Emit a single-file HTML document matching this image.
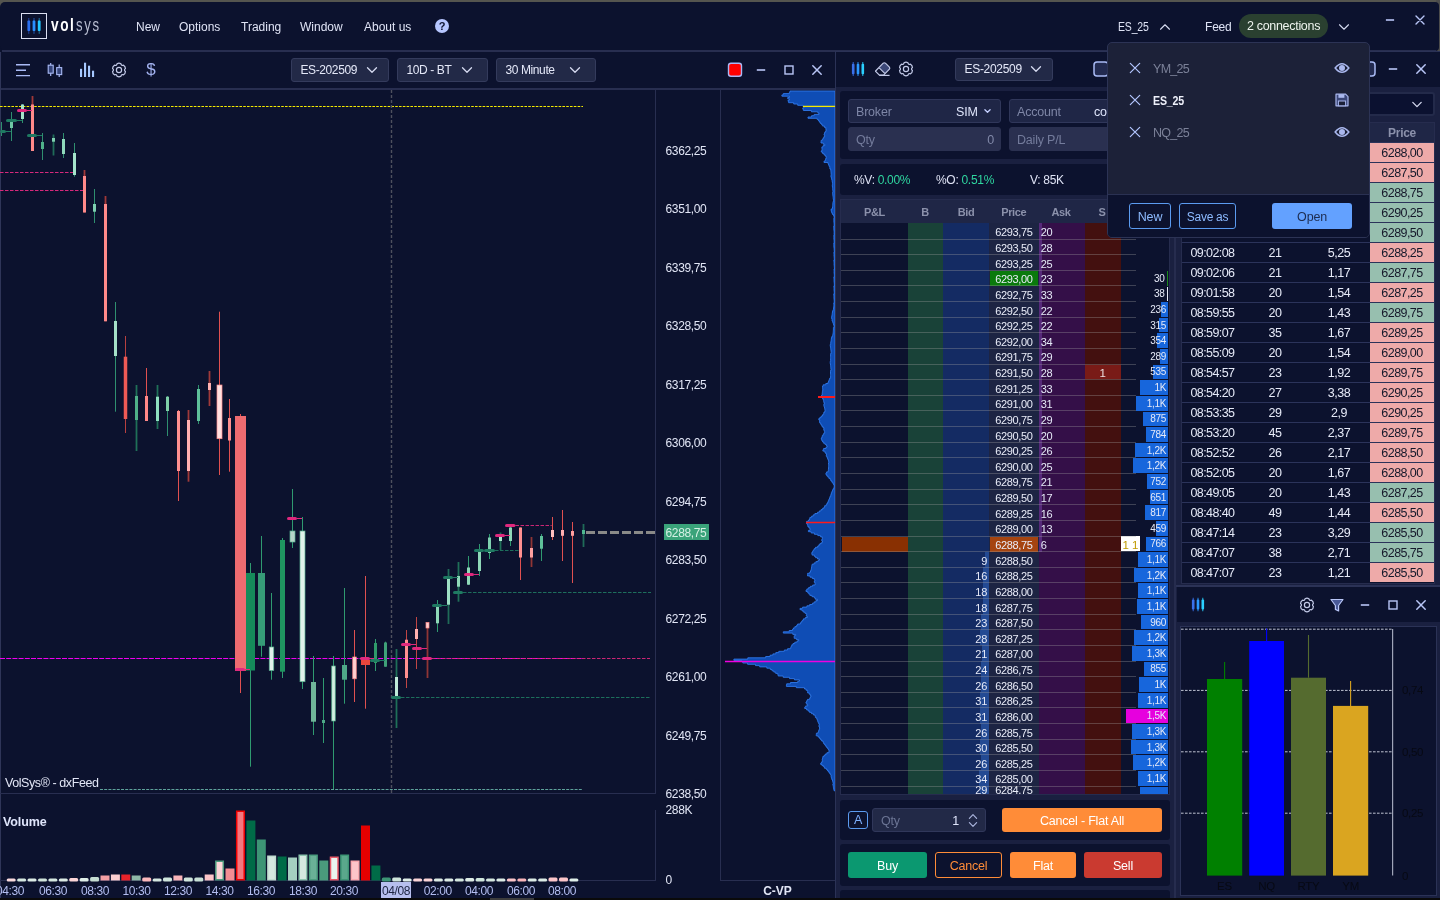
<!DOCTYPE html><html><head><meta charset="utf-8"><title>volsys</title><style>
*{box-sizing:border-box;margin:0;padding:0}
html,body{width:1440px;height:900px;overflow:hidden;background:#0c122e}
body{font-family:"Liberation Sans",sans-serif;font-size:12px;color:#dfe3f5;position:relative;letter-spacing:-0.2px}
.a{position:absolute}
.t{position:absolute;white-space:nowrap;line-height:16px;height:16px}
.c{text-align:center}
.r{text-align:right}
.b{font-weight:bold}
svg{position:absolute;left:0;top:0;overflow:visible}
.dd{position:absolute;background:#222947;border:1px solid #343b5c;border-radius:3px}
.blk{position:absolute;background:#0c122e;border-radius:3px}
.fld{position:absolute;background:#1f2646;border:1px solid #30375a;border-radius:3px}
.btn{position:absolute;border-radius:3px;text-align:center;color:#fff;font-size:12.5px;padding-top:1px}
</style></head><body>
<div class="a" style="left:0;top:0;width:1440px;height:8px;background:#55554f"></div>
<div class="a" style="left:1436px;top:0;width:4px;height:52px;background:#4c4c4c"></div>
<div class="a" style="left:0;top:1.5px;width:1438.6px;height:49.5px;background:#0c122e;border-radius:5px 4px 4px 5px"></div>
<div class="a" style="left:2px;top:50px;width:1434px;height:2px;background:#282e50"></div>
<div class="a" style="left:21px;top:12.8px;width:26.2px;height:26.2px;border:1.8px solid #dcdff2"></div>
<svg width="1440" height="60"><g><line x1="28.8" y1="18" x2="28.8" y2="33.8" stroke="#2348b0" stroke-width="0.9"/><rect x="27.4" y="20.6" width="2.8" height="10.5" rx="0.8" fill="#2a6ff0"/><line x1="34" y1="18" x2="34" y2="33.8" stroke="#2360c0" stroke-width="0.9"/><rect x="32.6" y="20.6" width="2.8" height="10.5" rx="0.8" fill="#2a90ff"/><line x1="39.2" y1="18" x2="39.2" y2="33.8" stroke="#2080b0" stroke-width="0.9"/><rect x="37.8" y="20.6" width="2.8" height="10.5" rx="0.8" fill="#22c8ff"/></g><circle cx="442" cy="26" r="7" fill="#b6c6ff"/><path d="M1160.5,29.25 L1165,24.75 L1169.5,29.25" fill="none" stroke="#d5daf0" stroke-width="1.1" stroke-linecap="round" stroke-linejoin="round"/><path d="M1339.5,24.75 L1344,29.25 L1348.5,24.75" fill="none" stroke="#d5daf0" stroke-width="1.1" stroke-linecap="round" stroke-linejoin="round"/><path d="M1385.9,20 L1394.1,20" stroke="#b9c6f7" stroke-width="1.6" fill="none"/><path d="M1416.0,16.0 L1424.0,24.0 M1424.0,16.0 L1416.0,24.0" stroke="#b9c6f7" stroke-width="1.4" stroke-linecap="round" fill="none"/></svg>
<div class="t" style="left:51px;top:12px;height:26px;line-height:26px;font-size:17.5px;color:#fff;font-weight:bold;transform:scaleX(0.78);transform-origin:0 0;letter-spacing:2px">vol</div>
<div class="t" style="left:76.3px;top:12px;height:26px;line-height:26px;font-size:17.5px;color:#b9bed2;letter-spacing:2.3px;transform:scaleX(0.75);transform-origin:0 0">sys</div>
<div class="t c b" style="left:435px;top:18px;width:14px;color:#0c122e;font-size:11px;">?</div>
<div class="t " style="left:136px;top:19px;font-size:12px;letter-spacing:0">New</div>
<div class="t " style="left:179px;top:19px;font-size:12px;letter-spacing:0">Options</div>
<div class="t " style="left:241px;top:19px;font-size:12px;letter-spacing:0">Trading</div>
<div class="t " style="left:300px;top:19px;font-size:12px;letter-spacing:0">Window</div>
<div class="t " style="left:364px;top:19px;font-size:12px;letter-spacing:0">About us</div>
<div class="t " style="left:1118px;top:19px;font-size:12.5px;transform:scaleX(0.84);transform-origin:0 50%">ES_25</div>
<div class="t " style="left:1205px;top:19px;font-size:12px">Feed</div>
<div class="a" style="left:1239px;top:14px;width:89px;height:24px;border-radius:12px;background:#2a4030"></div>
<div class="t c" style="left:1239px;top:18px;width:89px;font-size:12.5px;color:#eef3ee;letter-spacing:-0.3px">2 connections</div>
<div class="a" style="left:0;top:88px;width:835px;height:2px;background:#282e50"></div>
<div class="a" style="left:0;top:52px;width:1px;height:848px;background:#2f3558"></div>
<div class="a" style="left:655px;top:90px;width:1px;height:704px;background:#282e50"></div>
<div class="a" style="left:0;top:792.7px;width:656px;height:1.6px;background:#282e50"></div>
<div class="a" style="left:655px;top:810px;width:1px;height:70px;background:#282e50"></div>
<div class="a" style="left:0;top:879.5px;width:656px;height:1px;background:#282e50"></div>
<div class="a" style="left:720px;top:90px;width:1px;height:790px;background:#282e50"></div>
<div class="a" style="left:720px;top:880px;width:115px;height:1px;background:#282e50"></div>
<div class="dd" style="left:291px;top:58px;width:98px;height:24px"></div>
<div class="t " style="left:300.5px;top:62px;font-size:12px;color:#e4e8f8;letter-spacing:-0.4px">ES-202509</div>
<div class="dd" style="left:397px;top:58px;width:91px;height:24px"></div>
<div class="t " style="left:406.5px;top:62px;font-size:12px;color:#e4e8f8;letter-spacing:-0.4px">10D - BT</div>
<div class="dd" style="left:496px;top:58px;width:100px;height:24px"></div>
<div class="t " style="left:505.5px;top:62px;font-size:12px;color:#e4e8f8;letter-spacing:-0.4px">30 Minute</div>
<svg width="1440" height="100"><path d="M16,64.8 H30 M16,70.2 H26 M16,75.6 H30" stroke="#a9baf5" stroke-width="1.4" fill="none"/><path d="M50.7,63 V65 M50.7,73 V76 M59.2,64.5 V67.5 M59.2,74.5 V77" stroke="#a9baf5" stroke-width="1.2"/><rect x="48.2" y="65.2" width="5" height="8" fill="#35447a" stroke="#a9baf5" stroke-width="1.1"/><rect x="56.7" y="67.6" width="5" height="7" fill="#35447a" stroke="#a9baf5" stroke-width="1.1"/><rect x="80" y="68.8" width="2.1" height="8.200000000000003" fill="#a6c8ff"/><rect x="84" y="62.7" width="2.1" height="14.299999999999997" fill="#a6c8ff"/><rect x="88" y="65.7" width="2.1" height="11.299999999999997" fill="#a6c8ff"/><rect x="92" y="70.7" width="2.1" height="6.299999999999997" fill="#a6c8ff"/><path d="M117.07,63.69 A4.09,4.09 0 0 1 120.93,63.69 Q121.30,66.02 123.50,65.17 A4.09,4.09 0 0 1 125.43,68.52 Q123.60,70.00 125.43,71.48 A4.09,4.09 0 0 1 123.50,74.83 Q121.30,73.98 120.93,76.31 A4.09,4.09 0 0 1 117.07,76.31 Q116.70,73.98 114.50,74.83 A4.09,4.09 0 0 1 112.57,71.48 Q114.40,70.00 112.57,68.52 A4.09,4.09 0 0 1 114.50,65.17 Q116.70,66.02 117.07,63.69 Z" fill="none" stroke="#c3cae8" stroke-width="1.2" stroke-linejoin="round"/><circle cx="119" cy="70" r="2.6" fill="none" stroke="#c3cae8" stroke-width="1.2"/><path d="M367.5,67.75 L372,72.25 L376.5,67.75" fill="none" stroke="#d5daf0" stroke-width="1.3" stroke-linecap="round" stroke-linejoin="round"/><path d="M462.5,67.75 L467,72.25 L471.5,67.75" fill="none" stroke="#d5daf0" stroke-width="1.3" stroke-linecap="round" stroke-linejoin="round"/><path d="M570.5,67.75 L575,72.25 L579.5,67.75" fill="none" stroke="#d5daf0" stroke-width="1.3" stroke-linecap="round" stroke-linejoin="round"/><rect x="728.5" y="63.3" width="13" height="13" rx="2.5" fill="#ff0000" stroke="#aab8f5" stroke-width="1.4"/><path d="M756.8,70 L765.2,70" stroke="#b9c6f7" stroke-width="1.6" fill="none"/><rect x="785" y="66" width="8" height="8" fill="none" stroke="#b9c6f7" stroke-width="1.4"/><path d="M812.8,65.8 L821.2,74.2 M821.2,65.8 L812.8,74.2" stroke="#b9c6f7" stroke-width="1.5" stroke-linecap="round" fill="none"/></svg>
<div class="t c" style="left:144px;top:62px;width:14px;font-size:17px;color:#a3b2f0;">$</div>
<div class="t " style="left:665.5px;top:142.8px;letter-spacing:-0.35px;color:#e2e6f6">6362,25</div>
<div class="t " style="left:665.5px;top:201.3px;letter-spacing:-0.35px;color:#e2e6f6">6351,00</div>
<div class="t " style="left:665.5px;top:259.8px;letter-spacing:-0.35px;color:#e2e6f6">6339,75</div>
<div class="t " style="left:665.5px;top:318.3px;letter-spacing:-0.35px;color:#e2e6f6">6328,50</div>
<div class="t " style="left:665.5px;top:376.8px;letter-spacing:-0.35px;color:#e2e6f6">6317,25</div>
<div class="t " style="left:665.5px;top:435.3px;letter-spacing:-0.35px;color:#e2e6f6">6306,00</div>
<div class="t " style="left:665.5px;top:493.8px;letter-spacing:-0.35px;color:#e2e6f6">6294,75</div>
<div class="t " style="left:665.5px;top:552.3px;letter-spacing:-0.35px;color:#e2e6f6">6283,50</div>
<div class="t " style="left:665.5px;top:610.8px;letter-spacing:-0.35px;color:#e2e6f6">6272,25</div>
<div class="t " style="left:665.5px;top:669.3px;letter-spacing:-0.35px;color:#e2e6f6">6261,00</div>
<div class="t " style="left:665.5px;top:727.8px;letter-spacing:-0.35px;color:#e2e6f6">6249,75</div>
<div class="t " style="left:665.5px;top:786.3px;letter-spacing:-0.35px;color:#e2e6f6">6238,50</div>
<div class="a" style="left:664px;top:524px;width:45px;height:16px;background:#3aa37a"></div>
<div class="t " style="left:665.5px;top:524.6px;letter-spacing:-0.35px;color:#d5f0e4">6288,75</div>
<div class="t " style="left:665.5px;top:802px;letter-spacing:-0.35px;color:#e2e6f6">288K</div>
<div class="t " style="left:665.5px;top:872px;color:#e2e6f6">0</div>
<div class="t c b" style="left:720px;top:882.5px;width:115px;font-size:12px;color:#e2e6f6;letter-spacing:0">C-VP</div>
<div class="t " style="left:5px;top:775px;font-size:12.5px;color:#e2e6f6;letter-spacing:-0.42px">VolSys® - dxFeed</div>
<div class="t b" style="left:3px;top:814px;font-size:12.5px;color:#dfe5fb;letter-spacing:-0.1px">Volume</div>
<div class="a" style="left:381px;top:882px;width:30px;height:15.5px;background:#b7bfee"></div>
<div class="t c" style="left:-10px;top:883px;width:40px;letter-spacing:-0.4px;color:#b3bdf0">04:30</div>
<div class="t c" style="left:33px;top:883px;width:40px;letter-spacing:-0.4px;color:#b3bdf0">06:30</div>
<div class="t c" style="left:75px;top:883px;width:40px;letter-spacing:-0.4px;color:#b3bdf0">08:30</div>
<div class="t c" style="left:116.5px;top:883px;width:40px;letter-spacing:-0.4px;color:#b3bdf0">10:30</div>
<div class="t c" style="left:158px;top:883px;width:40px;letter-spacing:-0.4px;color:#b3bdf0">12:30</div>
<div class="t c" style="left:199.5px;top:883px;width:40px;letter-spacing:-0.4px;color:#b3bdf0">14:30</div>
<div class="t c" style="left:241px;top:883px;width:40px;letter-spacing:-0.4px;color:#b3bdf0">16:30</div>
<div class="t c" style="left:283px;top:883px;width:40px;letter-spacing:-0.4px;color:#b3bdf0">18:30</div>
<div class="t c" style="left:324px;top:883px;width:40px;letter-spacing:-0.4px;color:#b3bdf0">20:30</div>
<div class="t c" style="left:376px;top:883px;width:40px;letter-spacing:-0.4px;color:#1c2340">04/08</div>
<div class="t c" style="left:417.7px;top:883px;width:40px;letter-spacing:-0.4px;color:#b3bdf0">02:00</div>
<div class="t c" style="left:459px;top:883px;width:40px;letter-spacing:-0.4px;color:#b3bdf0">04:00</div>
<div class="t c" style="left:501px;top:883px;width:40px;letter-spacing:-0.4px;color:#b3bdf0">06:00</div>
<div class="t c" style="left:542px;top:883px;width:40px;letter-spacing:-0.4px;color:#b3bdf0">08:00</div>
<svg width="1440" height="900" viewBox="0 0 1440 900">
<line x1="0" y1="106.5" x2="583" y2="106.5" stroke="#f5ea00" stroke-width="1.2" stroke-dasharray="2.6 1.2"/>
<line x1="0" y1="172.5" x2="74" y2="172.5" stroke="#d8287c" stroke-width="1" stroke-dasharray="3.5 1.5"/>
<line x1="0" y1="190.5" x2="83" y2="190.5" stroke="#d8287c" stroke-width="1" stroke-dasharray="3.5 1.5"/>
<line x1="0" y1="658.5" x2="583" y2="658.5" stroke="#f000f0" stroke-width="1" stroke-dasharray="5 1.2"/>
<line x1="100" y1="789.5" x2="583" y2="789.5" stroke="#74c8b8" stroke-width="0.8" stroke-dasharray="3 1.2"/>
<line x1="391.5" y1="90" x2="391.5" y2="793" stroke="#4e505e" stroke-width="1.4" stroke-dasharray="3 2"/>
<line x1="586" y1="532.5" x2="655" y2="532.5" stroke="#8a8a88" stroke-width="3" stroke-dasharray="9 3"/>
<line x1="1.5" y1="122" x2="1.5" y2="136" stroke="#2f8f6f" stroke-width="1"/>
<rect x="1.50" y="129" width="0" height="0.00" fill="#4fb08a"/>
<line x1="11.5" y1="112" x2="11.5" y2="141" stroke="#2f8f6f" stroke-width="1"/>
<rect x="10.00" y="119.5" width="3" height="8.50" fill="#6fc8a6"/>
<line x1="22.5" y1="104" x2="22.5" y2="123" stroke="#2f8f6f" stroke-width="1"/>
<rect x="21.00" y="104.5" width="3" height="14.50" fill="#a5e4cb"/>
<line x1="32.5" y1="96" x2="32.5" y2="151" stroke="#a03838" stroke-width="1.8"/>
<rect x="31.00" y="104.5" width="3" height="46.50" fill="#ff8a8a"/>
<line x1="42.5" y1="133" x2="42.5" y2="160" stroke="#2f8f6f" stroke-width="1"/>
<rect x="41.00" y="142" width="3" height="7.00" fill="#4fb08a"/>
<line x1="53.5" y1="134.5" x2="53.5" y2="155.5" stroke="#1f6b58" stroke-width="1.8"/>
<rect x="52.00" y="138" width="3" height="3.70" fill="#7fd0b0"/>
<line x1="63.5" y1="133" x2="63.5" y2="158" stroke="#2f8f6f" stroke-width="1"/>
<rect x="62.00" y="139" width="3" height="15.00" fill="#8fd8bb"/>
<line x1="74.5" y1="143" x2="74.5" y2="176.7" stroke="#2f8f6f" stroke-width="1"/>
<rect x="73.00" y="153" width="3" height="22.00" fill="#a5e4cb"/>
<line x1="84.5" y1="170" x2="84.5" y2="212.5" stroke="#a03838" stroke-width="1.8"/>
<rect x="83.00" y="176" width="3" height="36.50" fill="#ff8a8a"/>
<line x1="94.5" y1="189" x2="94.5" y2="223" stroke="#2f8f6f" stroke-width="1"/>
<rect x="93.00" y="204" width="3" height="7.70" fill="#7fcfb0"/>
<line x1="105.5" y1="196" x2="105.5" y2="321.3" stroke="#a03838" stroke-width="1.8"/>
<rect x="104.00" y="204" width="3" height="117.30" fill="#ff8a8a"/>
<line x1="115.5" y1="302" x2="115.5" y2="411.7" stroke="#2f8f6f" stroke-width="1"/>
<rect x="114.00" y="321" width="3" height="35.00" fill="#a5e0c8"/>
<line x1="125.5" y1="336" x2="125.5" y2="433" stroke="#b84040" stroke-width="1"/>
<rect x="123.75" y="356.7" width="3.5" height="62.30" fill="#ee5a55"/>
<line x1="136.5" y1="385" x2="136.5" y2="451" stroke="#1f7058" stroke-width="1.8"/>
<rect x="135.00" y="396" width="3" height="24.00" fill="#4fb088"/>
<line x1="146.5" y1="368" x2="146.5" y2="421" stroke="#e05050" stroke-width="1"/>
<rect x="145.00" y="396" width="3" height="25.00" fill="#ff8888"/>
<line x1="157.5" y1="385" x2="157.5" y2="429" stroke="#1f7058" stroke-width="1.8"/>
<rect x="156.00" y="396.7" width="3" height="24.30" fill="#8fe0c0"/>
<line x1="167.5" y1="396" x2="167.5" y2="436" stroke="#2f8f6f" stroke-width="1"/>
<rect x="166.00" y="396.7" width="3" height="14.30" fill="#7fcfa8"/>
<line x1="178.5" y1="410" x2="178.5" y2="501" stroke="#e05050" stroke-width="1"/>
<rect x="177.00" y="411" width="3" height="60.00" fill="#ff9090"/>
<line x1="188.5" y1="410" x2="188.5" y2="481.7" stroke="#a03a3a" stroke-width="1.8"/>
<rect x="187.00" y="420" width="3" height="51.00" fill="#ffb0b0"/>
<line x1="198.5" y1="385" x2="198.5" y2="424" stroke="#2f8f6f" stroke-width="1"/>
<rect x="197.00" y="389" width="3" height="32.00" fill="#5fc09a"/>
<line x1="209.5" y1="371" x2="209.5" y2="406" stroke="#a03a3a" stroke-width="1.8"/>
<rect x="208.00" y="383" width="3" height="7.00" fill="#ffb0b0"/>
<line x1="219.5" y1="311.7" x2="219.5" y2="475" stroke="#e05050" stroke-width="1"/>
<rect x="217.00" y="385" width="5" height="53.70" fill="#ffe0e0" stroke="#ff8a8a" stroke-width="0.7"/>
<line x1="229.5" y1="399" x2="229.5" y2="471.7" stroke="#e05050" stroke-width="1"/>
<rect x="228.00" y="418" width="3" height="22.50" fill="#ff9090"/>
<line x1="240.5" y1="414" x2="240.5" y2="693" stroke="#e05050" stroke-width="1"/>
<rect x="235.00" y="416" width="11" height="254.80" fill="#ee6b70"/>
<line x1="250.5" y1="563" x2="250.5" y2="766.7" stroke="#2f9a70" stroke-width="1"/>
<rect x="246.00" y="573" width="9" height="97.50" fill="#158a5a"/>
<line x1="261.5" y1="536" x2="261.5" y2="656.7" stroke="#2f9a70" stroke-width="1"/>
<rect x="258.00" y="573" width="7" height="72.80" fill="#369b77"/>
<line x1="271.5" y1="593" x2="271.5" y2="679.7" stroke="#2f9a70" stroke-width="1"/>
<rect x="269.25" y="647" width="4.5" height="23.50" fill="#e0f0ea" stroke="#58b090" stroke-width="0.7"/>
<line x1="282.5" y1="538" x2="282.5" y2="678" stroke="#2f9a70" stroke-width="1"/>
<rect x="280.00" y="540" width="5" height="131.70" fill="#1f9560"/>
<line x1="292.5" y1="489" x2="292.5" y2="548" stroke="#2f9a70" stroke-width="1"/>
<rect x="290.00" y="531" width="5" height="11.00" fill="#b5d5c8" stroke="#58b090" stroke-width="0.7"/>
<line x1="302.5" y1="517" x2="302.5" y2="689" stroke="#2f9a70" stroke-width="1"/>
<rect x="300.00" y="531" width="5" height="150.70" fill="#e0f2ea" stroke="#58b090" stroke-width="0.7"/>
<line x1="313.5" y1="656" x2="313.5" y2="735" stroke="#2f9a70" stroke-width="1"/>
<rect x="311.00" y="682" width="5" height="39.70" fill="#70b59a"/>
<line x1="323.5" y1="678" x2="323.5" y2="743" stroke="#2f9a70" stroke-width="1"/>
<rect x="322.00" y="720" width="3" height="3.00" fill="#4fa888"/>
<line x1="333.5" y1="656" x2="333.5" y2="789" stroke="#2f9a70" stroke-width="1"/>
<rect x="331.75" y="666" width="3.5" height="55.00" fill="#d0f0e0" stroke="#58b090" stroke-width="0.7"/>
<line x1="344.5" y1="588" x2="344.5" y2="703.7" stroke="#2f9a70" stroke-width="1"/>
<rect x="342.00" y="665" width="5" height="14.70" fill="#4fa888"/>
<line x1="354.5" y1="630" x2="354.5" y2="702" stroke="#e05050" stroke-width="1"/>
<rect x="352.75" y="657" width="3.5" height="21.80" fill="#ffd0d0" stroke="#ff8a8a" stroke-width="0.7"/>
<line x1="365.5" y1="576" x2="365.5" y2="708.7" stroke="#e05050" stroke-width="1"/>
<rect x="361.00" y="659.7" width="9" height="5.30" fill="#e8463c"/>
<line x1="375.5" y1="639" x2="375.5" y2="671" stroke="#2f9a70" stroke-width="1"/>
<rect x="374.00" y="643" width="3" height="20.00" fill="#2f9a6a"/>
<line x1="385.5" y1="641.7" x2="385.5" y2="666.7" stroke="#2f9a70" stroke-width="1"/>
<rect x="384.00" y="642.5" width="3" height="24.20" fill="#3fa078"/>
<line x1="396.5" y1="649" x2="396.5" y2="728" stroke="#1f7058" stroke-width="1.8"/>
<rect x="395.00" y="677" width="3" height="19.00" fill="#c0ead8"/>
<line x1="406.5" y1="630" x2="406.5" y2="688" stroke="#c04545" stroke-width="1"/>
<rect x="405.00" y="639.7" width="3" height="38.30" fill="#ff9090"/>
<line x1="416.5" y1="617" x2="416.5" y2="669" stroke="#c04545" stroke-width="1"/>
<rect x="415.00" y="629" width="3" height="10.00" fill="#ffb0b0"/>
<line x1="427.5" y1="622.5" x2="427.5" y2="678" stroke="#903535" stroke-width="1.8"/>
<rect x="426.00" y="622.5" width="3" height="5.50" fill="#ffd0d0" stroke="#ff8a8a" stroke-width="0.7"/>
<line x1="437.5" y1="600" x2="437.5" y2="632" stroke="#2f9a70" stroke-width="1"/>
<rect x="436.00" y="605" width="3" height="18.30" fill="#8fd8b8"/>
<line x1="448.5" y1="569" x2="448.5" y2="624" stroke="#1f6b58" stroke-width="1.8"/>
<rect x="447.00" y="577.5" width="3" height="27.20" fill="#9fe0c5"/>
<line x1="458.5" y1="562" x2="458.5" y2="601.7" stroke="#1f7058" stroke-width="1.8"/>
<rect x="457.00" y="576" width="3" height="10.70" fill="#8fd8b8"/>
<line x1="468.5" y1="556" x2="468.5" y2="585" stroke="#2f9a70" stroke-width="1"/>
<rect x="467.00" y="567.5" width="3" height="17.20" fill="#8fd8b8"/>
<line x1="479.5" y1="544" x2="479.5" y2="576" stroke="#2f9a70" stroke-width="1"/>
<rect x="478.00" y="550" width="3" height="21.00" fill="#8fd8b8"/>
<line x1="489.5" y1="534" x2="489.5" y2="559" stroke="#2f9a70" stroke-width="1"/>
<rect x="488.00" y="537.5" width="3" height="15.50" fill="#7fd0b0"/>
<line x1="500.5" y1="532.5" x2="500.5" y2="550" stroke="#1f7058" stroke-width="1.8"/>
<rect x="499.00" y="536.7" width="3" height="4.30" fill="#b0ecd0"/>
<line x1="510.5" y1="526" x2="510.5" y2="546" stroke="#2f9a70" stroke-width="1"/>
<rect x="509.00" y="527.5" width="3" height="13.50" fill="#8fd8b8"/>
<line x1="520.5" y1="527.5" x2="520.5" y2="580" stroke="#e05050" stroke-width="1"/>
<rect x="519.00" y="527.5" width="3" height="30.00" fill="#ff9090"/>
<line x1="531.5" y1="537" x2="531.5" y2="567" stroke="#903535" stroke-width="1.8"/>
<rect x="530.00" y="548" width="3" height="9.50" fill="#ffa0a0"/>
<line x1="541.5" y1="534" x2="541.5" y2="561" stroke="#2f9a70" stroke-width="1"/>
<rect x="540.00" y="536" width="3" height="12.70" fill="#5fc09a"/>
<line x1="552.5" y1="517" x2="552.5" y2="540" stroke="#e05050" stroke-width="1"/>
<rect x="551.00" y="530" width="3" height="7.00" fill="#ffc0c0"/>
<line x1="562.5" y1="510" x2="562.5" y2="561" stroke="#e05050" stroke-width="1"/>
<rect x="561.00" y="530" width="3" height="5.80" fill="#ffb0b0"/>
<line x1="572.5" y1="522" x2="572.5" y2="583" stroke="#e05050" stroke-width="1"/>
<rect x="571.00" y="531" width="3" height="4.80" fill="#ffa0a0"/>
<line x1="583.5" y1="524" x2="583.5" y2="547" stroke="#1f6b58" stroke-width="1.8"/>
<rect x="582.00" y="530" width="3" height="4.00" fill="#4fb890"/>
<rect x="0" y="129.9" width="6" height="3.2" rx="1.6" fill="#1f7a62"/>
<line x1="6" y1="131.5" x2="11" y2="131.5" stroke="#1f7a62" stroke-width="1"/>
<rect x="6" y="118.9" width="11" height="3.2" rx="1.6" fill="#1f7a62"/>
<line x1="17" y1="120.5" x2="22" y2="120.5" stroke="#1f7a62" stroke-width="1"/>
<rect x="17" y="108.9" width="10" height="3.2" rx="1.6" fill="#e0287e"/>
<line x1="27" y1="110.5" x2="32" y2="110.5" stroke="#e0287e" stroke-width="1"/>
<rect x="27" y="133.9" width="10" height="3.2" rx="1.6" fill="#1f7a62"/>
<line x1="37" y1="135.5" x2="42" y2="135.5" stroke="#1f7a62" stroke-width="1"/>
<rect x="235" y="667.9" width="10" height="3.2" rx="1.6" fill="#e0287e"/>
<line x1="245" y1="669.5" x2="250" y2="669.5" stroke="#e0287e" stroke-width="1"/>
<rect x="287" y="516.9" width="10" height="3.2" rx="1.6" fill="#e0287e"/>
<line x1="297" y1="518.5" x2="302" y2="518.5" stroke="#e0287e" stroke-width="1"/>
<rect x="360" y="656.9" width="10" height="3.2" rx="1.6" fill="#e0287e"/>
<line x1="370" y1="658.5" x2="374" y2="658.5" stroke="#e0287e" stroke-width="1"/>
<rect x="370" y="658.9" width="10" height="3.2" rx="1.6" fill="#1f7a62"/>
<line x1="380" y1="660.5" x2="385" y2="660.5" stroke="#1f7a62" stroke-width="1"/>
<rect x="391" y="695.9" width="10" height="3.2" rx="1.6" fill="#1f7a62"/>
<line x1="401" y1="697.5" x2="650" y2="697.5" stroke="#1f7a62" stroke-width="0.9" stroke-dasharray="3.5 1.5"/>
<rect x="401" y="642.9" width="10" height="3.2" rx="1.6" fill="#e0287e"/>
<line x1="411" y1="644.5" x2="416" y2="644.5" stroke="#e0287e" stroke-width="1"/>
<rect x="412" y="646.9" width="10" height="3.2" rx="1.6" fill="#e0287e"/>
<line x1="422" y1="648.5" x2="427" y2="648.5" stroke="#e0287e" stroke-width="1"/>
<rect x="422" y="656.9" width="10" height="3.2" rx="1.6" fill="#e0287e"/>
<line x1="432" y1="658.5" x2="650" y2="658.5" stroke="#e0287e" stroke-width="0.9" stroke-dasharray="3.5 1.5"/>
<rect x="432" y="603.9" width="10" height="3.2" rx="1.6" fill="#1f7a62"/>
<line x1="442" y1="605.5" x2="447" y2="605.5" stroke="#1f7a62" stroke-width="1"/>
<rect x="443" y="575.9" width="10" height="3.2" rx="1.6" fill="#1f7a62"/>
<line x1="453" y1="577.5" x2="458" y2="577.5" stroke="#1f7a62" stroke-width="1"/>
<rect x="453" y="590.9" width="10" height="3.2" rx="1.6" fill="#1f7a62"/>
<line x1="463" y1="592.5" x2="651" y2="592.5" stroke="#1f7a62" stroke-width="0.9" stroke-dasharray="3.5 1.5"/>
<rect x="464" y="572.9" width="10" height="3.2" rx="1.6" fill="#e0287e"/>
<line x1="474" y1="574.5" x2="479" y2="574.5" stroke="#e0287e" stroke-width="1"/>
<rect x="474" y="548.9" width="10" height="3.2" rx="1.6" fill="#1f7a62"/>
<rect x="484" y="548.9" width="11" height="3.2" rx="1.6" fill="#1f7a62"/>
<line x1="495" y1="550.5" x2="520" y2="550.5" stroke="#1f7a62" stroke-width="0.9" stroke-dasharray="3.5 1.5"/>
<rect x="495" y="533.9" width="10" height="3.2" rx="1.6" fill="#e0287e"/>
<line x1="505" y1="535.5" x2="510" y2="535.5" stroke="#e0287e" stroke-width="1"/>
<rect x="505" y="523.9" width="10.5" height="3.2" rx="1.6" fill="#e0287e"/>
<line x1="515.5" y1="525.5" x2="551.7" y2="525.5" stroke="#e0287e" stroke-width="0.9" stroke-dasharray="3.5 1.5"/>
<rect x="6.7" y="878.6" width="9" height="3" rx="1.5" fill="#fadadd"/>
<rect x="17.1" y="878.6" width="9" height="3" rx="1.5" fill="#d5e8e0"/>
<rect x="27.5" y="878.6" width="9" height="3" rx="1.5" fill="#dcebe5"/>
<rect x="38.0" y="878.6" width="9" height="3" rx="1.5" fill="#cfe3da"/>
<rect x="48.4" y="878.6" width="9" height="3" rx="1.5" fill="#d5e8e0"/>
<rect x="58.8" y="878.6" width="9" height="3" rx="1.5" fill="#dcebe5"/>
<rect x="69.2" y="878.1" width="9" height="3.5" rx="1.5" fill="#fcd5d8"/>
<rect x="79.6" y="878.1" width="9" height="3.5" rx="1.5" fill="#e0efe9"/>
<rect x="90.1" y="877.1" width="9" height="4.5" rx="1.5" fill="#c5ddd2"/>
<rect x="100.5" y="875.5" width="9" height="5" fill="#f4a0a5"/>
<rect x="110.9" y="874.5" width="9" height="6" fill="#fccfd1"/>
<rect x="121.3" y="874.5" width="9" height="6" fill="#e8232a"/>
<rect x="131.7" y="875.5" width="9" height="5" fill="#8fb8a8"/>
<rect x="142.2" y="877.6" width="9" height="4" rx="1.5" fill="#fbb8bc"/>
<rect x="152.6" y="878.6" width="9" height="3" rx="1.5" fill="#d5e8e0"/>
<rect x="163.0" y="877.6" width="9" height="4" rx="1.5" fill="#cfe6dc"/>
<rect x="173.4" y="875.5" width="9" height="5" fill="#f9b5ba"/>
<rect x="183.8" y="877.6" width="9" height="4" rx="1.5" fill="#cfe6dc"/>
<rect x="194.3" y="877.6" width="9" height="4" rx="1.5" fill="#c8e0d6"/>
<rect x="204.7" y="874.5" width="9" height="6" fill="#fcc5c9"/>
<rect x="215.8" y="861.25" width="7.5" height="18.5" fill="#fcd5d8" stroke="#4c9a7d" stroke-width="1.5"/>
<rect x="225.5" y="868.5" width="9" height="12" fill="#f58d93"/>
<rect x="236.7" y="811.25" width="7.5" height="68.5" fill="#f4777f" stroke="#f00000" stroke-width="1.5"/>
<rect x="246.4" y="820.5" width="9" height="60" fill="#006b47"/>
<rect x="256.8" y="839.5" width="9" height="41" fill="#3d9575"/>
<rect x="267.9" y="856.25" width="7.5" height="23.5" fill="#d5e8e0" stroke="#c0dcd0" stroke-width="1.5"/>
<rect x="277.6" y="856.5" width="9" height="24" fill="#006b47"/>
<rect x="288.0" y="857.5" width="9" height="23" fill="#a5cfc0"/>
<rect x="299.2" y="855.25" width="7.5" height="24.5" fill="#d5e8e0" stroke="#8cc4ae" stroke-width="1.5"/>
<rect x="309.6" y="855.25" width="7.5" height="24.5" fill="#6ab097" stroke="#4a9c7e" stroke-width="1.5"/>
<rect x="319.3" y="860.5" width="9" height="20" fill="#4a9a7c"/>
<rect x="330.5" y="857.25" width="7.5" height="22.5" fill="#e8f4ef" stroke="#e85a6a" stroke-width="1.5"/>
<rect x="340.9" y="855.25" width="7.5" height="24.5" fill="#5aa88c" stroke="#3d9575" stroke-width="1.5"/>
<rect x="351.3" y="861.25" width="7.5" height="18.5" fill="#fcc5c9" stroke="#f9a8ae" stroke-width="1.5"/>
<rect x="361.0" y="825.5" width="9" height="55" fill="#e60000"/>
<rect x="371.4" y="865.5" width="9" height="15" fill="#006b47"/>
<rect x="381.8" y="877.6" width="9" height="4" rx="1.5" fill="#3d9575"/>
<rect x="392.2" y="877.6" width="9" height="4" rx="1.5" fill="#cfe6dc"/>
<rect x="402.7" y="878.6" width="9" height="3" rx="1.5" fill="#e0efe9"/>
<rect x="413.1" y="878.6" width="9" height="3" rx="1.5" fill="#fcd5d8"/>
<rect x="423.5" y="878.6" width="9" height="3" rx="1.5" fill="#fcd5d8"/>
<rect x="433.9" y="878.6" width="9" height="3" rx="1.5" fill="#dcebe5"/>
<rect x="444.3" y="878.6" width="9" height="3" rx="1.5" fill="#dcebe5"/>
<rect x="454.8" y="878.6" width="9" height="3" rx="1.5" fill="#d5e8e0"/>
<rect x="465.2" y="878.1" width="9" height="3.5" rx="1.5" fill="#dcebe5"/>
<rect x="475.6" y="878.1" width="9" height="3.5" rx="1.5" fill="#cfe6dc"/>
<rect x="486.0" y="878.6" width="9" height="3" rx="1.5" fill="#d5e8e0"/>
<rect x="496.4" y="878.6" width="9" height="3" rx="1.5" fill="#dcebe5"/>
<rect x="506.9" y="878.6" width="9" height="3" rx="1.5" fill="#fcc5c9"/>
<rect x="517.3" y="878.6" width="9" height="3" rx="1.5" fill="#f9b5ba"/>
<rect x="527.7" y="878.6" width="9" height="3" rx="1.5" fill="#dcebe5"/>
<rect x="538.1" y="878.6" width="9" height="3" rx="1.5" fill="#dcebe5"/>
<rect x="548.5" y="877.6" width="9" height="4" rx="1.5" fill="#fcc5c9"/>
<rect x="559.0" y="877.6" width="9" height="4" rx="1.5" fill="#fcc5c9"/>
<rect x="569.4" y="878.6" width="9" height="3" rx="1.5" fill="#e0efe9"/>
<polygon points="835,91 790.0,91.0 790.0,92.3 789.4,92.3 789.4,93.6 783.3,93.6 783.3,94.9 781.9,94.9 781.9,96.2 789.5,96.2 789.5,97.5 787.7,97.5 787.7,98.8 789.4,98.8 789.4,100.1 788.1,100.1 788.1,101.4 788.6,101.4 788.6,102.7 793.7,102.7 793.7,104.0 797.7,104.0 797.7,105.3 803.1,105.3 803.1,106.6 803.9,106.6 803.9,107.9 802.8,107.9 802.8,109.2 803.4,109.2 803.4,110.5 811.4,110.5 811.4,111.8 817.9,111.8 817.9,113.1 819.0,113.1 819.0,114.4 814.2,114.4 814.2,115.7 811.6,115.7 811.6,117.0 808.0,117.0 808.0,118.3 817.2,118.3 817.2,119.6 818.5,119.6 818.5,120.9 819.4,120.9 819.4,122.2 820.4,122.2 820.4,123.5 821.6,123.5 821.6,124.8 822.7,124.8 822.7,126.1 824.5,126.1 824.5,127.4 825.8,127.4 825.8,128.7 826.0,128.7 826.0,130.0 826.1,130.0 826.1,131.3 825.3,131.3 825.3,132.6 824.5,132.6 824.5,133.9 824.1,133.9 824.1,135.2 824.7,135.2 824.7,136.5 824.0,136.5 824.0,137.8 823.2,137.8 823.2,139.1 822.4,139.1 822.4,140.4 821.1,140.4 821.1,141.7 821.0,141.7 821.0,143.0 823.3,143.0 823.3,144.3 824.8,144.3 824.8,145.6 823.1,145.6 823.1,146.9 821.9,146.9 821.9,148.2 822.0,148.2 822.0,149.5 822.1,149.5 822.1,150.8 821.3,150.8 821.3,152.1 822.5,152.1 822.5,153.4 823.9,153.4 823.9,154.7 825.0,154.7 825.0,156.0 826.1,156.0 826.1,157.3 826.3,157.3 826.3,158.6 825.6,158.6 825.6,159.9 825.2,159.9 825.2,161.2 824.0,161.2 824.0,162.5 828.0,162.5 828.0,163.8 828.6,163.8 828.6,165.1 829.1,165.1 829.1,166.4 829.8,166.4 829.8,167.7 829.9,167.7 829.9,169.0 830.7,169.0 830.7,170.3 830.9,170.3 830.9,171.6 831.0,171.6 831.0,172.9 831.1,172.9 831.1,174.2 831.2,174.2 831.2,175.5 830.9,175.5 830.9,176.8 831.3,176.8 831.3,178.1 831.6,178.1 831.6,179.4 832.0,179.4 832.0,180.7 832.2,180.7 832.2,182.0 832.4,182.0 832.4,183.3 832.6,183.3 832.6,184.6 832.3,184.6 832.3,185.9 832.4,185.9 832.4,187.2 832.6,187.2 832.6,188.5 832.7,188.5 832.7,189.8 832.9,189.8 832.9,191.1 833.0,191.1 833.0,192.4 832.6,192.4 832.6,193.7 832.8,193.7 832.8,195.0 832.9,195.0 832.9,196.3 833.1,196.3 833.1,197.6 833.2,197.6 833.2,198.9 833.4,198.9 833.4,200.2 833.5,200.2 833.5,201.5 833.0,201.5 833.0,202.8 832.9,202.8 832.9,204.1 832.8,204.1 832.8,205.4 832.7,205.4 832.7,206.7 832.5,206.7 832.5,208.0 832.1,208.0 832.1,209.3 831.0,209.3 831.0,210.6 831.4,210.6 831.4,211.9 831.8,211.9 831.8,213.2 832.5,213.2 832.5,214.5 833.5,214.5 833.5,215.8 834.1,215.8 834.1,217.1 834.2,217.1 834.2,218.4 833.8,218.4 833.8,219.7 833.9,219.7 833.9,221.0 833.9,221.0 833.9,222.3 834.0,222.3 834.0,223.6 834.1,223.6 834.1,224.9 834.2,224.9 834.2,226.2 833.7,226.2 833.7,227.5 833.8,227.5 833.8,228.8 833.9,228.8 833.9,230.1 834.0,230.1 834.0,231.4 834.1,231.4 834.1,232.7 834.1,232.7 834.1,234.0 834.2,234.0 834.2,235.3 833.8,235.3 833.8,236.6 833.9,236.6 833.9,237.9 833.9,237.9 833.9,239.2 834.0,239.2 834.0,240.5 834.1,240.5 834.1,241.8 834.2,241.8 834.2,243.1 833.8,243.1 833.8,244.4 833.8,244.4 833.8,245.7 833.9,245.7 833.9,247.0 834.0,247.0 834.0,248.3 834.1,248.3 834.1,249.6 834.2,249.6 834.2,250.9 834.3,250.9 834.3,252.2 833.9,252.2 833.9,253.5 834.0,253.5 834.0,254.8 834.0,254.8 834.0,256.1 834.1,256.1 834.1,257.4 834.2,257.4 834.2,258.7 834.3,258.7 834.3,260.0 833.9,260.0 833.9,261.3 834.0,261.3 834.0,262.6 834.1,262.6 834.1,263.9 834.1,263.9 834.1,265.2 834.2,265.2 834.2,266.5 834.3,266.5 834.3,267.8 834.4,267.8 834.4,269.1 834.0,269.1 834.0,270.4 834.1,270.4 834.1,271.7 834.1,271.7 834.1,273.0 834.2,273.0 834.2,274.3 834.3,274.3 834.3,275.6 834.3,275.6 834.3,276.9 833.9,276.9 833.9,278.2 834.0,278.2 834.0,279.5 834.0,279.5 834.0,280.8 834.1,280.8 834.1,282.1 834.2,282.1 834.2,283.4 834.3,283.4 834.3,284.7 834.3,284.7 834.3,286.0 833.9,286.0 833.9,287.3 834.0,287.3 834.0,288.6 834.0,288.6 834.0,289.9 834.1,289.9 834.1,291.2 834.2,291.2 834.2,292.5 834.3,292.5 834.3,293.8 833.8,293.8 833.8,295.1 833.9,295.1 833.9,296.4 833.9,296.4 833.9,297.7 834.0,297.7 834.0,299.0 834.1,299.0 834.1,300.3 834.2,300.3 834.2,301.6 834.2,301.6 834.2,302.9 833.8,302.9 833.8,304.2 833.9,304.2 833.9,305.5 833.8,305.5 833.8,306.8 833.7,306.8 833.7,308.1 833.5,308.1 833.5,309.4 833.3,309.4 833.3,310.7 832.6,310.7 832.6,312.0 832.4,312.0 832.4,313.3 832.2,313.3 832.2,314.6 832.0,314.6 832.0,315.9 831.8,315.9 831.8,317.2 831.6,317.2 831.6,318.5 832.1,318.5 832.1,319.8 832.1,319.8 832.1,321.1 832.7,321.1 832.7,322.4 833.2,322.4 833.2,323.7 833.6,323.7 833.6,325.0 834.0,325.0 834.0,326.3 834.1,326.3 834.1,327.6 833.4,327.6 833.4,328.9 833.4,328.9 833.4,330.2 833.3,330.2 833.3,331.5 833.2,331.5 833.2,332.8 833.1,332.8 833.1,334.1 832.9,334.1 832.9,335.4 832.6,335.4 832.6,336.7 831.7,336.7 831.7,338.0 831.4,338.0 831.4,339.3 831.2,339.3 831.2,340.6 831.0,340.6 831.0,341.9 830.8,341.9 830.8,343.2 830.7,343.2 830.7,344.5 830.2,344.5 830.2,345.8 830.4,345.8 830.4,347.1 830.6,347.1 830.6,348.4 830.8,348.4 830.8,349.7 831.0,349.7 831.0,351.0 831.1,351.0 831.1,352.3 831.2,352.3 831.2,353.6 830.6,353.6 830.6,354.9 830.6,354.9 830.6,356.2 830.6,356.2 830.6,357.5 830.6,357.5 830.6,358.8 830.6,358.8 830.6,360.1 830.7,360.1 830.7,361.4 830.2,361.4 830.2,362.7 830.3,362.7 830.3,364.0 830.5,364.0 830.5,365.3 830.6,365.3 830.6,366.6 830.8,366.6 830.8,367.9 830.9,367.9 830.9,369.2 831.1,369.2 831.1,370.5 830.5,370.5 830.5,371.8 830.5,371.8 830.5,373.1 830.5,373.1 830.5,374.4 830.6,374.4 830.6,375.7 830.6,375.7 830.6,377.0 830.6,377.0 830.6,378.3 829.6,378.3 829.6,379.6 829.1,379.6 829.1,380.9 828.6,380.9 828.6,382.2 828.0,382.2 828.0,383.5 825.8,383.5 825.8,384.8 823.2,384.8 823.2,386.1 822.5,386.1 822.5,387.4 822.6,387.4 822.6,388.7 822.8,388.7 822.8,390.0 822.7,390.0 822.7,391.3 822.4,391.3 822.4,392.6 822.2,392.6 822.2,393.9 822.3,393.9 822.3,395.2 821.5,395.2 821.5,396.5 822.1,396.5 822.1,397.8 822.7,397.8 822.7,399.1 823.4,399.1 823.4,400.4 823.7,400.4 823.7,401.7 824.0,401.7 824.0,403.0 824.3,403.0 824.3,404.3 823.8,404.3 823.8,405.6 824.1,405.6 824.1,406.9 824.5,406.9 824.5,408.2 824.8,408.2 824.8,409.5 825.1,409.5 825.1,410.8 824.9,410.8 824.9,412.1 823.9,412.1 823.9,413.4 823.6,413.4 823.6,414.7 822.5,414.7 822.5,416.0 821.3,416.0 821.3,417.3 819.9,417.3 819.9,418.6 818.8,418.6 818.8,419.9 819.7,419.9 819.7,421.2 819.5,421.2 819.5,422.5 820.3,422.5 820.3,423.8 821.1,423.8 821.1,425.1 821.9,425.1 821.9,426.4 822.9,426.4 822.9,427.7 823.9,427.7 823.9,429.0 823.8,429.0 823.8,430.3 824.4,430.3 824.4,431.6 824.7,431.6 824.7,432.9 823.9,432.9 823.9,434.2 823.2,434.2 823.2,435.5 822.3,435.5 822.3,436.8 821.9,436.8 821.9,438.1 821.3,438.1 821.3,439.4 821.8,439.4 821.8,440.7 822.6,440.7 822.6,442.0 823.7,442.0 823.7,443.3 825.1,443.3 825.1,444.6 826.5,444.6 826.5,445.9 827.2,445.9 827.2,447.2 826.0,447.2 826.0,448.5 823.6,448.5 823.6,449.8 822.9,449.8 822.9,451.1 824.8,451.1 824.8,452.4 825.7,452.4 825.7,453.7 826.5,453.7 826.5,455.0 826.3,455.0 826.3,456.3 827.0,456.3 827.0,457.6 827.6,457.6 827.6,458.9 828.1,458.9 828.1,460.2 828.5,460.2 828.5,461.5 828.9,461.5 828.9,462.8 828.5,462.8 828.5,464.1 828.7,464.1 828.7,465.4 828.6,465.4 828.6,466.7 828.6,466.7 828.6,468.0 828.5,468.0 828.5,469.3 828.4,469.3 828.4,470.6 828.2,470.6 828.2,471.9 826.6,471.9 826.6,473.2 825.9,473.2 825.9,474.5 826.7,474.5 826.7,475.8 827.8,475.8 827.8,477.1 828.9,477.1 828.9,478.4 830.3,478.4 830.3,479.7 830.9,479.7 830.9,481.0 831.9,481.0 831.9,482.3 832.9,482.3 832.9,483.6 833.6,483.6 833.6,484.9 834.3,484.9 834.3,486.2 834.2,486.2 834.2,487.5 833.9,487.5 833.9,488.8 833.0,488.8 833.0,490.1 832.5,490.1 832.5,491.4 831.9,491.4 831.9,492.7 831.3,492.7 831.3,494.0 831.0,494.0 831.0,495.3 830.7,495.3 830.7,496.6 829.9,496.6 829.9,497.9 829.5,497.9 829.5,499.2 828.9,499.2 828.9,500.5 828.4,500.5 828.4,501.8 827.8,501.8 827.8,503.1 827.0,503.1 827.0,504.4 826.3,504.4 826.3,505.7 824.7,505.7 824.7,507.0 824.0,507.0 824.0,508.3 822.6,508.3 822.6,509.6 821.0,509.6 821.0,510.9 819.4,510.9 819.4,512.2 817.6,512.2 817.6,513.5 814.9,513.5 814.9,514.8 813.3,514.8 813.3,516.1 811.6,516.1 811.6,517.4 809.9,517.4 809.9,518.7 809.5,518.7 809.5,520.0 808.4,520.0 808.4,521.3 806.7,521.3 806.7,522.6 806.6,522.6 806.6,523.9 807.6,523.9 807.6,525.2 807.8,525.2 807.8,526.5 808.8,526.5 808.8,527.8 809.9,527.8 809.9,529.1 810.1,529.1 810.1,530.4 808.4,530.4 808.4,531.7 811.2,531.7 811.2,533.0 814.4,533.0 814.4,534.3 817.8,534.3 817.8,535.6 820.6,535.6 820.6,536.9 822.3,536.9 822.3,538.2 822.4,538.2 822.4,539.5 821.7,539.5 821.7,540.8 822.5,540.8 822.5,542.1 821.8,542.1 821.8,543.4 820.0,543.4 820.0,544.7 818.9,544.7 818.9,546.0 817.7,546.0 817.7,547.3 815.5,547.3 815.5,548.6 814.3,548.6 814.3,549.9 813.3,549.9 813.3,551.2 812.6,551.2 812.6,552.5 811.8,552.5 811.8,553.8 812.1,553.8 812.1,555.1 814.4,555.1 814.4,556.4 815.6,556.4 815.6,557.7 817.5,557.7 817.5,559.0 819.4,559.0 819.4,560.3 818.1,560.3 818.1,561.6 815.9,561.6 815.9,562.9 814.1,562.9 814.1,564.2 812.1,564.2 812.1,565.5 811.8,565.5 811.8,566.8 811.6,566.8 811.6,568.1 811.4,568.1 811.4,569.4 811.1,569.4 811.1,570.7 810.5,570.7 810.5,572.0 809.8,572.0 809.8,573.3 807.6,573.3 807.6,574.6 807.5,574.6 807.5,575.9 810.0,575.9 810.0,577.2 812.3,577.2 812.3,578.5 814.3,578.5 814.3,579.8 814.9,579.8 814.9,581.1 814.3,581.1 814.3,582.4 815.1,582.4 815.1,583.7 815.1,583.7 815.1,585.0 812.7,585.0 812.7,586.3 810.3,586.3 810.3,587.6 808.6,587.6 808.6,588.9 806.9,588.9 806.9,590.2 806.0,590.2 806.0,591.5 807.7,591.5 807.7,592.8 808.8,592.8 808.8,594.1 809.9,594.1 809.9,595.4 812.0,595.4 812.0,596.7 814.3,596.7 814.3,598.0 815.4,598.0 815.4,599.3 817.5,599.3 817.5,600.6 815.9,600.6 815.9,601.9 814.1,601.9 814.1,603.2 812.4,603.2 812.4,604.5 809.7,604.5 809.7,605.8 806.9,605.8 806.9,607.1 802.6,607.1 802.6,608.4 800.0,608.4 800.0,609.7 802.0,609.7 802.0,611.0 803.7,611.0 803.7,612.3 805.2,612.3 805.2,613.6 806.7,613.6 806.7,614.9 806.3,614.9 806.3,616.2 807.4,616.2 807.4,617.5 805.4,617.5 805.4,618.8 803.5,618.8 803.5,620.1 802.4,620.1 802.4,621.4 801.4,621.4 801.4,622.7 800.4,622.7 800.4,624.0 797.6,624.0 797.6,625.3 796.6,625.3 796.6,626.6 794.9,626.6 794.9,627.9 793.5,627.9 793.5,629.2 792.5,629.2 792.5,630.5 789.2,630.5 789.2,631.8 783.3,631.8 783.3,633.1 792.8,633.1 792.8,634.4 795.6,634.4 795.6,635.7 794.2,635.7 794.2,637.0 794.2,637.0 794.2,638.3 796.4,638.3 796.4,639.6 798.6,639.6 798.6,640.9 797.1,640.9 797.1,642.2 794.8,642.2 794.8,643.5 793.0,643.5 793.0,644.8 791.8,644.8 791.8,646.1 791.2,646.1 791.2,647.4 790.7,647.4 790.7,648.7 787.6,648.7 787.6,650.0 784.3,650.0 784.3,651.3 778.8,651.3 778.8,652.6 775.8,652.6 775.8,653.9 772.9,653.9 772.9,655.2 770.1,655.2 770.1,656.5 765.7,656.5 765.7,657.8 747.8,657.8 747.8,659.1 733.9,659.1 733.9,660.4 741.6,660.4 741.6,661.7 742.8,661.7 742.8,663.0 747.6,663.0 747.6,664.3 755.5,664.3 755.5,665.6 759.7,665.6 759.7,666.9 766.8,666.9 766.8,668.2 770.3,668.2 770.3,669.5 772.0,669.5 772.0,670.8 773.8,670.8 773.8,672.1 775.7,672.1 775.7,673.4 777.8,673.4 777.8,674.7 778.2,674.7 778.2,676.0 783.2,676.0 783.2,677.3 789.5,677.3 789.5,678.6 794.4,678.6 794.4,679.9 799.5,679.9 799.5,681.2 797.8,681.2 797.8,682.5 790.5,682.5 790.5,683.8 786.7,683.8 786.7,685.1 786.4,685.1 786.4,686.4 796.3,686.4 796.3,687.7 804.5,687.7 804.5,689.0 806.1,689.0 806.1,690.3 807.6,690.3 807.6,691.6 807.6,691.6 807.6,692.9 809.2,692.9 809.2,694.2 810.3,694.2 810.3,695.5 811.0,695.5 811.0,696.8 810.3,696.8 810.3,698.1 809.7,698.1 809.7,699.4 807.5,699.4 807.5,700.7 806.7,700.7 806.7,702.0 806.0,702.0 806.0,703.3 806.9,703.3 806.9,704.6 807.7,704.6 807.7,705.9 805.7,705.9 805.7,707.2 804.7,707.2 804.7,708.5 806.5,708.5 806.5,709.8 808.1,709.8 808.1,711.1 809.6,711.1 809.6,712.4 811.5,712.4 811.5,713.7 813.4,713.7 813.4,715.0 815.1,715.0 815.1,716.3 815.4,716.3 815.4,717.6 816.7,717.6 816.7,718.9 817.2,718.9 817.2,720.2 817.7,720.2 817.7,721.5 818.2,721.5 818.2,722.8 818.8,722.8 818.8,724.1 819.4,724.1 819.4,725.4 818.9,725.4 818.9,726.7 819.5,726.7 819.5,728.0 819.6,728.0 819.6,729.3 819.1,729.3 819.1,730.6 818.6,730.6 818.6,731.9 818.1,731.9 818.1,733.2 816.4,733.2 816.4,734.5 816.2,734.5 816.2,735.8 818.1,735.8 818.1,737.1 819.5,737.1 819.5,738.4 820.5,738.4 820.5,739.7 821.6,739.7 821.6,741.0 823.0,741.0 823.0,742.3 823.6,742.3 823.6,743.6 824.6,743.6 824.6,744.9 825.6,744.9 825.6,746.2 826.6,746.2 826.6,747.5 827.6,747.5 827.6,748.8 828.6,748.8 828.6,750.1 829.1,750.1 829.1,751.4 828.9,751.4 828.9,752.7 826.9,752.7 826.9,754.0 825.3,754.0 825.3,755.3 824.0,755.3 824.0,756.6 822.8,756.6 822.8,757.9 822.6,757.9 822.6,759.2 822.2,759.2 822.2,760.5 822.6,760.5 822.6,761.8 821.6,761.8 821.6,763.1 820.7,763.1 820.7,764.4 822.0,764.4 822.0,765.7 823.7,765.7 823.7,767.0 824.6,767.0 824.6,768.3 826.4,768.3 826.4,769.6 827.5,769.6 827.5,770.9 828.6,770.9 828.6,772.2 829.6,772.2 829.6,773.5 830.4,773.5 830.4,774.8 831.2,774.8 831.2,776.1 831.1,776.1 831.1,777.4 831.6,777.4 831.6,778.7 832.0,778.7 832.0,780.0 832.5,780.0 832.5,781.3 832.9,781.3 832.9,782.6 833.3,782.6 833.3,783.9 832.9,783.9 832.9,785.2 833.2,785.2 833.2,786.5 833.4,786.5 833.4,787.8 833.7,787.8 833.7,789.1 833.9,789.1 833.9,790.4 834.5,790.4 834.5,791.0 835,791" fill="#0f4db5" stroke="#2f78ea" stroke-width="0.9" stroke-linejoin="miter"/>
<line x1="803" y1="106.4" x2="835" y2="106.4" stroke="#f5ea00" stroke-width="1.3"/>
<line x1="818" y1="397" x2="835" y2="397" stroke="#ff1a1a" stroke-width="2"/>
<line x1="806" y1="522.5" x2="835" y2="522.5" stroke="#ff1a1a" stroke-width="1.5"/>
<line x1="725" y1="661.4" x2="835" y2="661.4" stroke="#f000e0" stroke-width="1.5"/>
</svg>
<div class="a" style="left:835px;top:51px;width:343px;height:849px;background:#1a2040;border-left:1px solid #2b3256;border-top:1px solid #2b3256"></div>
<div class="a" style="left:836px;top:52px;width:340px;height:35px;background:#0c122e"></div>
<div class="a" style="left:1174px;top:52px;width:2px;height:848px;background:#262c4e"></div>
<div class="dd" style="left:955px;top:57.5px;width:98px;height:23.5px"></div>
<div class="t " style="left:964.5px;top:61px;font-size:12px;color:#e4e8f8;letter-spacing:-0.3px">ES-202509</div>
<svg width="1440" height="900"><line x1="853.2" y1="62.0" x2="853.2" y2="76.0" stroke="#3a70ea" stroke-width="0.9"/><rect x="851.9000000000001" y="63.7" width="2.6" height="10.6" rx="1" fill="#3a70ea"/><line x1="858" y1="62.0" x2="858" y2="76.0" stroke="#2a98ff" stroke-width="0.9"/><rect x="856.7" y="63.7" width="2.6" height="10.6" rx="1" fill="#2a98ff"/><line x1="862.8" y1="62.0" x2="862.8" y2="76.0" stroke="#2ad0ff" stroke-width="0.9"/><rect x="861.5" y="63.7" width="2.6" height="10.6" rx="1" fill="#2ad0ff"/><path d="M879.2,67.4 L883.2,63.2 Q884.3,62.3 885.4,63.2 L889.4,67.2 Q890.2,68.2 889.4,69.2 L885.2,73.4 Z" fill="#3c4878"/><path d="M875.6,71 L883.2,63.2 Q884.3,62.3 885.4,63.2 L889.4,67.2 Q890.2,68.2 889.4,69.2 L883.6,75.2 L879.4,75.2 L875.6,71.4 Z M879,67.6 L885,73.6" fill="none" stroke="#c3cae8" stroke-width="1.2" stroke-linejoin="round"/><path d="M879.4,75.4 H889.6" stroke="#c3cae8" stroke-width="1.2"/><path d="M904.07,62.69 A4.09,4.09 0 0 1 907.93,62.69 Q908.30,65.02 910.50,64.17 A4.09,4.09 0 0 1 912.43,67.52 Q910.60,69.00 912.43,70.48 A4.09,4.09 0 0 1 910.50,73.83 Q908.30,72.98 907.93,75.31 A4.09,4.09 0 0 1 904.07,75.31 Q903.70,72.98 901.50,73.83 A4.09,4.09 0 0 1 899.57,70.48 Q901.40,69.00 899.57,67.52 A4.09,4.09 0 0 1 901.50,64.17 Q903.70,65.02 904.07,62.69 Z" fill="none" stroke="#c3cae8" stroke-width="1.2" stroke-linejoin="round"/><circle cx="906" cy="69" r="2.6" fill="none" stroke="#c3cae8" stroke-width="1.2"/><path d="M1031.5,66.75 L1036,71.25 L1040.5,66.75" fill="none" stroke="#d5daf0" stroke-width="1.3" stroke-linecap="round" stroke-linejoin="round"/><rect x="1094" y="62" width="14" height="14" rx="3" fill="#222a50" stroke="#a9baf5" stroke-width="1.5"/></svg>
<div class="blk" style="left:840px;top:91px;width:330px;height:68px"></div>
<div class="fld" style="left:848px;top:99px;width:153px;height:23.5px"></div>
<div class="fld" style="left:1009px;top:99px;width:153px;height:23.5px"></div>
<div class="fld" style="left:848px;top:127px;width:153px;height:24px;background:#2a3050;border-color:#2a3050"></div>
<div class="fld" style="left:1009px;top:127px;width:153px;height:24px;background:#2a3050;border-color:#2a3050"></div>
<div class="t " style="left:856px;top:103.5px;font-size:12.5px;color:#7e86a6">Broker</div>
<div class="t " style="left:956px;top:103.5px;font-size:12.5px;color:#dfe5fb">SIM</div>
<svg width="1440" height="200"><path d="M984.9,109.7 L987.5,112.3 L990.1,109.7" fill="none" stroke="#c5d0ff" stroke-width="1.3" stroke-linecap="round" stroke-linejoin="round"/></svg>
<div class="t " style="left:1017px;top:103.5px;font-size:12.5px;color:#7e86a6">Account</div>
<div class="t " style="left:1094px;top:103.5px;font-size:12.5px;color:#dfe5fb">co</div>
<div class="t " style="left:856px;top:131.5px;font-size:12.5px;color:#747c9c">Qty</div>
<div class="t r" style="left:980px;top:131.5px;width:14px;font-size:12.5px;color:#8088a8">0</div>
<div class="t " style="left:1017px;top:131.5px;font-size:12.5px;color:#747c9c">Daily P/L</div>
<div class="blk" style="left:840px;top:164px;width:330px;height:31px"></div>
<div class="t " style="left:854px;top:172px;font-size:12px;letter-spacing:-0.3px">%V: <span style="color:#2fd6a0">0.00%</span></div>
<div class="t " style="left:936px;top:172px;font-size:12px;letter-spacing:-0.3px">%O: <span style="color:#2fd6a0">0.51%</span></div>
<div class="t " style="left:1030px;top:172px;font-size:12px;letter-spacing:-0.3px">V: 85K</div>
<div class="a" style="left:840px;top:199px;width:330px;height:596px;background:#0c122e;border:1px solid #262c4e"></div>
<div class="a" style="left:841px;top:200px;width:328px;height:23px;background:#1f2646"></div>
<div class="t c b" style="left:849.5px;top:204px;width:50px;font-size:11px;color:#8b91ab;letter-spacing:-0.35px">P&amp;L</div>
<div class="t c b" style="left:900px;top:204px;width:50px;font-size:11px;color:#8b91ab;letter-spacing:-0.35px">B</div>
<div class="t c b" style="left:941px;top:204px;width:50px;font-size:11px;color:#8b91ab;letter-spacing:-0.35px">Bid</div>
<div class="t c b" style="left:988.8px;top:204px;width:50px;font-size:11px;color:#8b91ab;letter-spacing:-0.35px">Price</div>
<div class="t c b" style="left:1036px;top:204px;width:50px;font-size:11px;color:#8b91ab;letter-spacing:-0.35px">Ask</div>
<div class="t c b" style="left:1077px;top:204px;width:50px;font-size:11px;color:#8b91ab;letter-spacing:-0.35px">S</div>
<div class="a" style="left:907.7px;top:223.4px;width:35.3px;height:570.6px;background:#194238"></div>
<div class="a" style="left:943px;top:223.4px;width:46px;height:570.6px;background:#142b63"></div>
<div class="a" style="left:989px;top:223.4px;width:49.5px;height:570.6px;background:#1d2443"></div>
<div class="a" style="left:1038.5px;top:223.4px;width:46px;height:570.6px;background:#340f48"></div>
<div class="a" style="left:1038.5px;top:223.4px;width:3px;height:328.23px;background:#56297a"></div>
<div class="a" style="left:1084.5px;top:223.4px;width:36px;height:570.6px;background:#43100f"></div>
<div class="t r" style="left:989px;top:224.415px;width:43.6px;font-size:11px;letter-spacing:-0.35px;color:#e9ecf8">6293,75</div>
<div class="t " style="left:1040.8px;top:224.415px;font-size:11px;letter-spacing:-0.3px;color:#e6eaf8">20</div>
<div class="t r" style="left:989px;top:240.045px;width:43.6px;font-size:11px;letter-spacing:-0.35px;color:#e9ecf8">6293,50</div>
<div class="t " style="left:1040.8px;top:240.045px;font-size:11px;letter-spacing:-0.3px;color:#e6eaf8">28</div>
<div class="a" style="left:841px;top:238.53px;width:295px;height:1px;background:rgba(160,160,160,0.34)"></div>
<div class="t r" style="left:989px;top:255.675px;width:43.6px;font-size:11px;letter-spacing:-0.35px;color:#e9ecf8">6293,25</div>
<div class="t " style="left:1040.8px;top:255.675px;font-size:11px;letter-spacing:-0.3px;color:#e6eaf8">25</div>
<div class="a" style="left:841px;top:254.16px;width:295px;height:1px;background:rgba(160,160,160,0.34)"></div>
<div class="a" style="left:990px;top:270.79px;width:48px;height:14.83px;background:#0a7a0c"></div>
<div class="a" style="left:1167px;top:270.89px;width:1.0px;height:14.63px;background:#1a8a1a"></div>
<div class="t r" style="left:1116px;top:270.705px;width:48.5px;font-size:10px;letter-spacing:-0.35px;color:#e6eaf8">30</div>
<div class="t r" style="left:989px;top:271.305px;width:43.6px;font-size:11px;letter-spacing:-0.35px;color:#e9ecf8">6293,00</div>
<div class="t " style="left:1040.8px;top:271.305px;font-size:11px;letter-spacing:-0.3px;color:#e6eaf8">23</div>
<div class="a" style="left:841px;top:269.79px;width:295px;height:1px;background:rgba(160,160,160,0.34)"></div>
<div class="a" style="left:1167px;top:286.52px;width:1.0px;height:14.63px;background:#e6eaf8"></div>
<div class="t r" style="left:1116px;top:286.335px;width:48.5px;font-size:10px;letter-spacing:-0.35px;color:#e6eaf8">38</div>
<div class="t r" style="left:989px;top:286.935px;width:43.6px;font-size:11px;letter-spacing:-0.35px;color:#e9ecf8">6292,75</div>
<div class="t " style="left:1040.8px;top:286.935px;font-size:11px;letter-spacing:-0.3px;color:#e6eaf8">33</div>
<div class="a" style="left:841px;top:285.42px;width:295px;height:1px;background:rgba(160,160,160,0.34)"></div>
<div class="a" style="left:1160.5px;top:302.15px;width:7.5px;height:14.63px;background:#1766dc"></div>
<div class="t r" style="left:1116px;top:301.965px;width:50px;font-size:10px;letter-spacing:-0.35px;color:#e6eaf8">236</div>
<div class="t r" style="left:989px;top:302.565px;width:43.6px;font-size:11px;letter-spacing:-0.35px;color:#e9ecf8">6292,50</div>
<div class="t " style="left:1040.8px;top:302.565px;font-size:11px;letter-spacing:-0.3px;color:#e6eaf8">22</div>
<div class="a" style="left:841px;top:301.05px;width:295px;height:1px;background:rgba(160,160,160,0.34)"></div>
<div class="a" style="left:1158.8px;top:317.78px;width:9.2px;height:14.63px;background:#1766dc"></div>
<div class="t r" style="left:1116px;top:317.59499999999997px;width:50px;font-size:10px;letter-spacing:-0.35px;color:#e6eaf8">315</div>
<div class="t r" style="left:989px;top:318.195px;width:43.6px;font-size:11px;letter-spacing:-0.35px;color:#e9ecf8">6292,25</div>
<div class="t " style="left:1040.8px;top:318.195px;font-size:11px;letter-spacing:-0.3px;color:#e6eaf8">22</div>
<div class="a" style="left:841px;top:316.68px;width:295px;height:1px;background:rgba(160,160,160,0.34)"></div>
<div class="a" style="left:1157px;top:333.41px;width:11.0px;height:14.63px;background:#1766dc"></div>
<div class="t r" style="left:1116px;top:333.22499999999997px;width:50px;font-size:10px;letter-spacing:-0.35px;color:#e6eaf8">354</div>
<div class="t r" style="left:989px;top:333.825px;width:43.6px;font-size:11px;letter-spacing:-0.35px;color:#e9ecf8">6292,00</div>
<div class="t " style="left:1040.8px;top:333.825px;font-size:11px;letter-spacing:-0.3px;color:#e6eaf8">34</div>
<div class="a" style="left:841px;top:332.31px;width:295px;height:1px;background:rgba(160,160,160,0.34)"></div>
<div class="a" style="left:1159.8px;top:349.04px;width:8.2px;height:14.63px;background:#1766dc"></div>
<div class="t r" style="left:1116px;top:348.85499999999996px;width:50px;font-size:10px;letter-spacing:-0.35px;color:#e6eaf8">289</div>
<div class="t r" style="left:989px;top:349.455px;width:43.6px;font-size:11px;letter-spacing:-0.35px;color:#e9ecf8">6291,75</div>
<div class="t " style="left:1040.8px;top:349.455px;font-size:11px;letter-spacing:-0.3px;color:#e6eaf8">29</div>
<div class="a" style="left:841px;top:347.94px;width:295px;height:1px;background:rgba(160,160,160,0.34)"></div>
<div class="a" style="left:1084.5px;top:364.57px;width:36px;height:14.83px;background:#791b17"></div>
<div class="t c" style="left:1084.5px;top:365.08500000000004px;width:36px;font-size:11.5px;color:#eadfe0">1</div>
<div class="a" style="left:1153px;top:364.67px;width:15.0px;height:14.63px;background:#1766dc"></div>
<div class="t r" style="left:1116px;top:364.485px;width:50px;font-size:10px;letter-spacing:-0.35px;color:#e6eaf8">535</div>
<div class="t r" style="left:989px;top:365.08500000000004px;width:43.6px;font-size:11px;letter-spacing:-0.35px;color:#e9ecf8">6291,50</div>
<div class="t " style="left:1040.8px;top:365.08500000000004px;font-size:11px;letter-spacing:-0.3px;color:#e6eaf8">28</div>
<div class="a" style="left:841px;top:363.57px;width:295px;height:1px;background:rgba(160,160,160,0.34)"></div>
<div class="a" style="left:1139.8px;top:380.30px;width:28.2px;height:14.63px;background:#1766dc"></div>
<div class="t r" style="left:1116px;top:380.115px;width:50px;font-size:10px;letter-spacing:-0.35px;color:#e6eaf8">1K</div>
<div class="t r" style="left:989px;top:380.71500000000003px;width:43.6px;font-size:11px;letter-spacing:-0.35px;color:#e9ecf8">6291,25</div>
<div class="t " style="left:1040.8px;top:380.71500000000003px;font-size:11px;letter-spacing:-0.3px;color:#e6eaf8">33</div>
<div class="a" style="left:841px;top:379.20px;width:295px;height:1px;background:rgba(160,160,160,0.34)"></div>
<div class="a" style="left:1136.2px;top:395.93px;width:31.8px;height:14.63px;background:#1766dc"></div>
<div class="t r" style="left:1116px;top:395.745px;width:50px;font-size:10px;letter-spacing:-0.35px;color:#e6eaf8">1,1K</div>
<div class="t r" style="left:989px;top:396.345px;width:43.6px;font-size:11px;letter-spacing:-0.35px;color:#e9ecf8">6291,00</div>
<div class="t " style="left:1040.8px;top:396.345px;font-size:11px;letter-spacing:-0.3px;color:#e6eaf8">31</div>
<div class="a" style="left:841px;top:394.83px;width:295px;height:1px;background:rgba(160,160,160,0.34)"></div>
<div class="a" style="left:1143px;top:411.56px;width:25.0px;height:14.63px;background:#1766dc"></div>
<div class="t r" style="left:1116px;top:411.375px;width:50px;font-size:10px;letter-spacing:-0.35px;color:#e6eaf8">875</div>
<div class="t r" style="left:989px;top:411.975px;width:43.6px;font-size:11px;letter-spacing:-0.35px;color:#e9ecf8">6290,75</div>
<div class="t " style="left:1040.8px;top:411.975px;font-size:11px;letter-spacing:-0.3px;color:#e6eaf8">29</div>
<div class="a" style="left:841px;top:410.46px;width:295px;height:1px;background:rgba(160,160,160,0.34)"></div>
<div class="a" style="left:1146.4px;top:427.19px;width:21.6px;height:14.63px;background:#1766dc"></div>
<div class="t r" style="left:1116px;top:427.005px;width:50px;font-size:10px;letter-spacing:-0.35px;color:#e6eaf8">784</div>
<div class="t r" style="left:989px;top:427.605px;width:43.6px;font-size:11px;letter-spacing:-0.35px;color:#e9ecf8">6290,50</div>
<div class="t " style="left:1040.8px;top:427.605px;font-size:11px;letter-spacing:-0.3px;color:#e6eaf8">20</div>
<div class="a" style="left:841px;top:426.09px;width:295px;height:1px;background:rgba(160,160,160,0.34)"></div>
<div class="a" style="left:1135px;top:442.82px;width:33.0px;height:14.63px;background:#1766dc"></div>
<div class="t r" style="left:1116px;top:442.635px;width:50px;font-size:10px;letter-spacing:-0.35px;color:#e6eaf8">1,2K</div>
<div class="t r" style="left:989px;top:443.235px;width:43.6px;font-size:11px;letter-spacing:-0.35px;color:#e9ecf8">6290,25</div>
<div class="t " style="left:1040.8px;top:443.235px;font-size:11px;letter-spacing:-0.3px;color:#e6eaf8">26</div>
<div class="a" style="left:841px;top:441.72px;width:295px;height:1px;background:rgba(160,160,160,0.34)"></div>
<div class="a" style="left:1133px;top:458.45px;width:35.0px;height:14.63px;background:#1766dc"></div>
<div class="t r" style="left:1116px;top:458.265px;width:50px;font-size:10px;letter-spacing:-0.35px;color:#e6eaf8">1,2K</div>
<div class="t r" style="left:989px;top:458.865px;width:43.6px;font-size:11px;letter-spacing:-0.35px;color:#e9ecf8">6290,00</div>
<div class="t " style="left:1040.8px;top:458.865px;font-size:11px;letter-spacing:-0.3px;color:#e6eaf8">25</div>
<div class="a" style="left:841px;top:457.35px;width:295px;height:1px;background:rgba(160,160,160,0.34)"></div>
<div class="a" style="left:1147px;top:474.08px;width:21.0px;height:14.63px;background:#1766dc"></div>
<div class="t r" style="left:1116px;top:473.895px;width:50px;font-size:10px;letter-spacing:-0.35px;color:#e6eaf8">752</div>
<div class="t r" style="left:989px;top:474.495px;width:43.6px;font-size:11px;letter-spacing:-0.35px;color:#e9ecf8">6289,75</div>
<div class="t " style="left:1040.8px;top:474.495px;font-size:11px;letter-spacing:-0.3px;color:#e6eaf8">21</div>
<div class="a" style="left:841px;top:472.98px;width:295px;height:1px;background:rgba(160,160,160,0.34)"></div>
<div class="a" style="left:1150.3px;top:489.71px;width:17.7px;height:14.63px;background:#1766dc"></div>
<div class="t r" style="left:1116px;top:489.525px;width:50px;font-size:10px;letter-spacing:-0.35px;color:#e6eaf8">651</div>
<div class="t r" style="left:989px;top:490.125px;width:43.6px;font-size:11px;letter-spacing:-0.35px;color:#e9ecf8">6289,50</div>
<div class="t " style="left:1040.8px;top:490.125px;font-size:11px;letter-spacing:-0.3px;color:#e6eaf8">17</div>
<div class="a" style="left:841px;top:488.61px;width:295px;height:1px;background:rgba(160,160,160,0.34)"></div>
<div class="a" style="left:1145.2px;top:505.34px;width:22.8px;height:14.63px;background:#1766dc"></div>
<div class="t r" style="left:1116px;top:505.1550000000001px;width:50px;font-size:10px;letter-spacing:-0.35px;color:#e6eaf8">817</div>
<div class="t r" style="left:989px;top:505.7550000000001px;width:43.6px;font-size:11px;letter-spacing:-0.35px;color:#e9ecf8">6289,25</div>
<div class="t " style="left:1040.8px;top:505.7550000000001px;font-size:11px;letter-spacing:-0.3px;color:#e6eaf8">16</div>
<div class="a" style="left:841px;top:504.24px;width:295px;height:1px;background:rgba(160,160,160,0.34)"></div>
<div class="a" style="left:1155.6px;top:520.97px;width:12.4px;height:14.63px;background:#1766dc"></div>
<div class="t r" style="left:1116px;top:520.7850000000001px;width:50px;font-size:10px;letter-spacing:-0.35px;color:#e6eaf8">459</div>
<div class="t r" style="left:989px;top:521.3850000000001px;width:43.6px;font-size:11px;letter-spacing:-0.35px;color:#e9ecf8">6289,00</div>
<div class="t " style="left:1040.8px;top:521.3850000000001px;font-size:11px;letter-spacing:-0.3px;color:#e6eaf8">13</div>
<div class="a" style="left:841px;top:519.87px;width:295px;height:1px;background:rgba(160,160,160,0.34)"></div>
<div class="a" style="left:842px;top:536.50px;width:65.5px;height:15.03px;background:#893002"></div>
<div class="a" style="left:990px;top:536.50px;width:48px;height:15.03px;background:#a54410"></div>
<div class="a" style="left:1121px;top:536.30px;width:19px;height:15.03px;background:#fff"></div>
<div class="t c" style="left:1121px;top:537.0150000000001px;width:19px;font-size:11.5px;color:#c09a00;letter-spacing:0">1 1</div>
<div class="a" style="left:1146.4px;top:536.60px;width:21.6px;height:14.63px;background:#1766dc"></div>
<div class="t r" style="left:1116px;top:536.4150000000001px;width:50px;font-size:10px;letter-spacing:-0.35px;color:#e6eaf8">766</div>
<div class="t r" style="left:989px;top:537.0150000000001px;width:43.6px;font-size:11px;letter-spacing:-0.35px;color:#e9ecf8">6288,75</div>
<div class="t " style="left:1040.8px;top:537.0150000000001px;font-size:11px;letter-spacing:-0.3px;color:#e6eaf8">6</div>
<div class="a" style="left:841px;top:535.50px;width:295px;height:1px;background:rgba(160,160,160,0.34)"></div>
<div class="a" style="left:984.5px;top:551.63px;width:4.5px;height:15.63px;background:#234a93"></div>
<div class="t r" style="left:943px;top:552.6450000000001px;width:44px;font-size:11px;letter-spacing:-0.3px;color:#e6eaf8">9</div>
<div class="a" style="left:1138px;top:552.23px;width:30.0px;height:14.63px;background:#1766dc"></div>
<div class="t r" style="left:1116px;top:552.0450000000001px;width:50px;font-size:10px;letter-spacing:-0.35px;color:#e6eaf8">1,1K</div>
<div class="t r" style="left:989px;top:552.6450000000001px;width:43.6px;font-size:11px;letter-spacing:-0.35px;color:#e9ecf8">6288,50</div>
<div class="a" style="left:841px;top:551.13px;width:295px;height:1px;background:rgba(160,160,160,0.34)"></div>
<div class="a" style="left:983.0px;top:567.26px;width:6.0px;height:15.63px;background:#234a93"></div>
<div class="t r" style="left:943px;top:568.2750000000001px;width:44px;font-size:11px;letter-spacing:-0.3px;color:#e6eaf8">16</div>
<div class="a" style="left:1134.2px;top:567.86px;width:33.8px;height:14.63px;background:#1766dc"></div>
<div class="t r" style="left:1116px;top:567.6750000000001px;width:50px;font-size:10px;letter-spacing:-0.35px;color:#e6eaf8">1,2K</div>
<div class="t r" style="left:989px;top:568.2750000000001px;width:43.6px;font-size:11px;letter-spacing:-0.35px;color:#e9ecf8">6288,25</div>
<div class="a" style="left:841px;top:566.76px;width:295px;height:1px;background:rgba(160,160,160,0.34)"></div>
<div class="a" style="left:982.5px;top:582.89px;width:6.5px;height:15.63px;background:#234a93"></div>
<div class="t r" style="left:943px;top:583.9050000000001px;width:44px;font-size:11px;letter-spacing:-0.3px;color:#e6eaf8">18</div>
<div class="a" style="left:1138px;top:583.49px;width:30.0px;height:14.63px;background:#1766dc"></div>
<div class="t r" style="left:1116px;top:583.3050000000001px;width:50px;font-size:10px;letter-spacing:-0.35px;color:#e6eaf8">1,1K</div>
<div class="t r" style="left:989px;top:583.9050000000001px;width:43.6px;font-size:11px;letter-spacing:-0.35px;color:#e9ecf8">6288,00</div>
<div class="a" style="left:841px;top:582.39px;width:295px;height:1px;background:rgba(160,160,160,0.34)"></div>
<div class="a" style="left:982.5px;top:598.52px;width:6.5px;height:15.63px;background:#234a93"></div>
<div class="t r" style="left:943px;top:599.5350000000001px;width:44px;font-size:11px;letter-spacing:-0.3px;color:#e6eaf8">18</div>
<div class="a" style="left:1137px;top:599.12px;width:31.0px;height:14.63px;background:#1766dc"></div>
<div class="t r" style="left:1116px;top:598.9350000000001px;width:50px;font-size:10px;letter-spacing:-0.35px;color:#e6eaf8">1,1K</div>
<div class="t r" style="left:989px;top:599.5350000000001px;width:43.6px;font-size:11px;letter-spacing:-0.35px;color:#e9ecf8">6287,75</div>
<div class="a" style="left:841px;top:598.02px;width:295px;height:1px;background:rgba(160,160,160,0.34)"></div>
<div class="a" style="left:981.4px;top:614.15px;width:7.6px;height:15.63px;background:#234a93"></div>
<div class="t r" style="left:943px;top:615.1650000000001px;width:44px;font-size:11px;letter-spacing:-0.3px;color:#e6eaf8">23</div>
<div class="a" style="left:1141px;top:614.75px;width:27.0px;height:14.63px;background:#1766dc"></div>
<div class="t r" style="left:1116px;top:614.565px;width:50px;font-size:10px;letter-spacing:-0.35px;color:#e6eaf8">960</div>
<div class="t r" style="left:989px;top:615.1650000000001px;width:43.6px;font-size:11px;letter-spacing:-0.35px;color:#e9ecf8">6287,50</div>
<div class="a" style="left:841px;top:613.65px;width:295px;height:1px;background:rgba(160,160,160,0.34)"></div>
<div class="a" style="left:980.3px;top:629.78px;width:8.7px;height:15.63px;background:#234a93"></div>
<div class="t r" style="left:943px;top:630.7950000000001px;width:44px;font-size:11px;letter-spacing:-0.3px;color:#e6eaf8">28</div>
<div class="a" style="left:1134.2px;top:630.38px;width:33.8px;height:14.63px;background:#1766dc"></div>
<div class="t r" style="left:1116px;top:630.195px;width:50px;font-size:10px;letter-spacing:-0.35px;color:#e6eaf8">1,2K</div>
<div class="t r" style="left:989px;top:630.7950000000001px;width:43.6px;font-size:11px;letter-spacing:-0.35px;color:#e9ecf8">6287,25</div>
<div class="a" style="left:841px;top:629.28px;width:295px;height:1px;background:rgba(160,160,160,0.34)"></div>
<div class="a" style="left:981.9px;top:645.41px;width:7.1px;height:15.63px;background:#234a93"></div>
<div class="t r" style="left:943px;top:646.4250000000002px;width:44px;font-size:11px;letter-spacing:-0.3px;color:#e6eaf8">21</div>
<div class="a" style="left:1131.8px;top:646.01px;width:36.2px;height:14.63px;background:#1766dc"></div>
<div class="t r" style="left:1116px;top:645.8250000000002px;width:50px;font-size:10px;letter-spacing:-0.35px;color:#e6eaf8">1,3K</div>
<div class="t r" style="left:989px;top:646.4250000000002px;width:43.6px;font-size:11px;letter-spacing:-0.35px;color:#e9ecf8">6287,00</div>
<div class="a" style="left:841px;top:644.91px;width:295px;height:1px;background:rgba(160,160,160,0.34)"></div>
<div class="a" style="left:981.2px;top:661.04px;width:7.8px;height:15.63px;background:#234a93"></div>
<div class="t r" style="left:943px;top:662.0550000000002px;width:44px;font-size:11px;letter-spacing:-0.3px;color:#e6eaf8">24</div>
<div class="a" style="left:1144.2px;top:661.64px;width:23.8px;height:14.63px;background:#1766dc"></div>
<div class="t r" style="left:1116px;top:661.4550000000002px;width:50px;font-size:10px;letter-spacing:-0.35px;color:#e6eaf8">855</div>
<div class="t r" style="left:989px;top:662.0550000000002px;width:43.6px;font-size:11px;letter-spacing:-0.35px;color:#e9ecf8">6286,75</div>
<div class="a" style="left:841px;top:660.54px;width:295px;height:1px;background:rgba(160,160,160,0.34)"></div>
<div class="a" style="left:980.8px;top:676.67px;width:8.2px;height:15.63px;background:#234a93"></div>
<div class="t r" style="left:943px;top:677.6850000000002px;width:44px;font-size:11px;letter-spacing:-0.3px;color:#e6eaf8">26</div>
<div class="a" style="left:1139.3px;top:677.27px;width:28.7px;height:14.63px;background:#1766dc"></div>
<div class="t r" style="left:1116px;top:677.0850000000002px;width:50px;font-size:10px;letter-spacing:-0.35px;color:#e6eaf8">1K</div>
<div class="t r" style="left:989px;top:677.6850000000002px;width:43.6px;font-size:11px;letter-spacing:-0.35px;color:#e9ecf8">6286,50</div>
<div class="a" style="left:841px;top:676.17px;width:295px;height:1px;background:rgba(160,160,160,0.34)"></div>
<div class="a" style="left:979.7px;top:692.30px;width:9.3px;height:15.63px;background:#234a93"></div>
<div class="t r" style="left:943px;top:693.3150000000002px;width:44px;font-size:11px;letter-spacing:-0.3px;color:#e6eaf8">31</div>
<div class="a" style="left:1138px;top:692.90px;width:30.0px;height:14.63px;background:#1766dc"></div>
<div class="t r" style="left:1116px;top:692.7150000000001px;width:50px;font-size:10px;letter-spacing:-0.35px;color:#e6eaf8">1,1K</div>
<div class="t r" style="left:989px;top:693.3150000000002px;width:43.6px;font-size:11px;letter-spacing:-0.35px;color:#e9ecf8">6286,25</div>
<div class="a" style="left:841px;top:691.80px;width:295px;height:1px;background:rgba(160,160,160,0.34)"></div>
<div class="a" style="left:979.7px;top:707.93px;width:9.3px;height:15.63px;background:#234a93"></div>
<div class="t r" style="left:943px;top:708.9450000000002px;width:44px;font-size:11px;letter-spacing:-0.3px;color:#e6eaf8">31</div>
<div class="a" style="left:1126px;top:708.53px;width:42.0px;height:14.63px;background:#e600de"></div>
<div class="t r" style="left:1116px;top:708.3450000000001px;width:50px;font-size:10px;letter-spacing:-0.35px;color:#e6eaf8">1,5K</div>
<div class="t r" style="left:989px;top:708.9450000000002px;width:43.6px;font-size:11px;letter-spacing:-0.35px;color:#e9ecf8">6286,00</div>
<div class="a" style="left:841px;top:707.43px;width:295px;height:1px;background:rgba(160,160,160,0.34)"></div>
<div class="a" style="left:980.8px;top:723.56px;width:8.2px;height:15.63px;background:#234a93"></div>
<div class="t r" style="left:943px;top:724.5750000000002px;width:44px;font-size:11px;letter-spacing:-0.3px;color:#e6eaf8">26</div>
<div class="a" style="left:1132px;top:724.16px;width:36.0px;height:14.63px;background:#1766dc"></div>
<div class="t r" style="left:1116px;top:723.9750000000001px;width:50px;font-size:10px;letter-spacing:-0.35px;color:#e6eaf8">1,3K</div>
<div class="t r" style="left:989px;top:724.5750000000002px;width:43.6px;font-size:11px;letter-spacing:-0.35px;color:#e9ecf8">6285,75</div>
<div class="a" style="left:841px;top:723.06px;width:295px;height:1px;background:rgba(160,160,160,0.34)"></div>
<div class="a" style="left:979.9px;top:739.19px;width:9.1px;height:15.63px;background:#234a93"></div>
<div class="t r" style="left:943px;top:740.2050000000002px;width:44px;font-size:11px;letter-spacing:-0.3px;color:#e6eaf8">30</div>
<div class="a" style="left:1130.8px;top:739.79px;width:37.2px;height:14.63px;background:#1766dc"></div>
<div class="t r" style="left:1116px;top:739.6050000000001px;width:50px;font-size:10px;letter-spacing:-0.35px;color:#e6eaf8">1,3K</div>
<div class="t r" style="left:989px;top:740.2050000000002px;width:43.6px;font-size:11px;letter-spacing:-0.35px;color:#e9ecf8">6285,50</div>
<div class="a" style="left:841px;top:738.69px;width:295px;height:1px;background:rgba(160,160,160,0.34)"></div>
<div class="a" style="left:980.8px;top:754.82px;width:8.2px;height:15.63px;background:#234a93"></div>
<div class="t r" style="left:943px;top:755.8350000000002px;width:44px;font-size:11px;letter-spacing:-0.3px;color:#e6eaf8">26</div>
<div class="a" style="left:1133px;top:755.42px;width:35.0px;height:14.63px;background:#1766dc"></div>
<div class="t r" style="left:1116px;top:755.2350000000001px;width:50px;font-size:10px;letter-spacing:-0.35px;color:#e6eaf8">1,2K</div>
<div class="t r" style="left:989px;top:755.8350000000002px;width:43.6px;font-size:11px;letter-spacing:-0.35px;color:#e9ecf8">6285,25</div>
<div class="a" style="left:841px;top:754.32px;width:295px;height:1px;background:rgba(160,160,160,0.34)"></div>
<div class="a" style="left:979.0px;top:770.45px;width:10.0px;height:15.63px;background:#234a93"></div>
<div class="t r" style="left:943px;top:771.4650000000001px;width:44px;font-size:11px;letter-spacing:-0.3px;color:#e6eaf8">34</div>
<div class="a" style="left:1138px;top:771.05px;width:30.0px;height:14.63px;background:#1766dc"></div>
<div class="t r" style="left:1116px;top:770.8650000000001px;width:50px;font-size:10px;letter-spacing:-0.35px;color:#e6eaf8">1,1K</div>
<div class="t r" style="left:989px;top:771.4650000000001px;width:43.6px;font-size:11px;letter-spacing:-0.35px;color:#e9ecf8">6285,00</div>
<div class="a" style="left:841px;top:769.95px;width:295px;height:1px;background:rgba(160,160,160,0.34)"></div>
<div class="a" style="left:980.1px;top:786.08px;width:8.9px;height:7.92px;background:#234a93"></div>
<div class="t r" style="left:943px;top:782.4px;width:44px;font-size:11px;letter-spacing:-0.3px;color:#e6eaf8">29</div>
<div class="a" style="left:1140px;top:786.68px;width:28.0px;height:6.92px;background:#1766dc"></div>
<div class="t r" style="left:989px;top:782.4px;width:43.6px;font-size:11px;letter-spacing:-0.35px;color:#e9ecf8">6284,75</div>
<div class="a" style="left:841px;top:785.58px;width:295px;height:1px;background:rgba(160,160,160,0.34)"></div>
<div class="a" style="left:840px;top:794px;width:330px;height:6px;background:#1a2040;border-top:1px solid #262c4e"></div>
<div class="blk" style="left:840px;top:800px;width:330px;height:40px"></div>
<div class="a" style="left:848px;top:811px;width:20px;height:18px;border:1px solid #5b9bf0;border-radius:3px"></div>
<div class="t c" style="left:848px;top:812px;width:20px;font-size:12.5px;color:#7db0ff">A</div>
<div class="fld" style="left:872px;top:808px;width:114px;height:24px;background:#222947"></div>
<div class="t " style="left:881px;top:812.5px;font-size:12.5px;color:#6b7494">Qty</div>
<div class="t r" style="left:944px;top:812.5px;width:15px;font-size:12.5px;color:#dfe5fb">1</div>
<svg width="1440" height="900"><path d="M969.4,818.3 L973,814.7 L976.6,818.3" fill="none" stroke="#aab4dc" stroke-width="1.2" stroke-linecap="round" stroke-linejoin="round"/><path d="M969.4,822.7 L973,826.3 L976.6,822.7" fill="none" stroke="#aab4dc" stroke-width="1.2" stroke-linecap="round" stroke-linejoin="round"/></svg>
<div class="btn" style="left:1002px;top:808px;width:160px;height:24px;line-height:24px;background:#ff8c38">Cancel - Flat All</div>
<div class="blk" style="left:840px;top:844px;width:330px;height:42px"></div>
<div class="btn" style="left:848px;top:852px;width:79px;height:26px;line-height:26px;background:#0b9870">Buy</div>
<div class="btn" style="left:935px;top:852px;width:67px;height:26px;line-height:24px;border:1px solid #ff8c38;color:#ff8c38;background:#0c122e">Cancel</div>
<div class="btn" style="left:1010px;top:852px;width:66px;height:26px;line-height:26px;background:#ff8c38">Flat</div>
<div class="btn" style="left:1084px;top:852px;width:78px;height:26px;line-height:26px;background:#ca3a30">Sell</div>
<div class="blk" style="left:840px;top:890px;width:330px;height:10px"></div>
<div class="a" style="left:1176px;top:51px;width:264px;height:536px;background:#1a2040;border-top:1px solid #2b3256"></div>
<div class="a" style="left:1177px;top:52px;width:263px;height:35px;background:#0c122e"></div>
<div class="a" style="left:1181px;top:92px;width:254px;height:24px;background:#0b1130;border:2px solid #232a4a;border-radius:3px"></div>
<svg width="1440" height="900"><rect x="1361" y="62" width="14" height="14" rx="3" fill="#222a50" stroke="#a9baf5" stroke-width="1.5"/><path d="M1388.8,69 L1397.2,69" stroke="#b9c6f7" stroke-width="1.6" fill="none"/><path d="M1416.8,64.8 L1425.2,73.2 M1425.2,64.8 L1416.8,73.2" stroke="#b9c6f7" stroke-width="1.5" stroke-linecap="round" fill="none"/><path d="M1412.8,102.4 L1417,106.6 L1421.2,102.4" fill="none" stroke="#d5daf0" stroke-width="1.3" stroke-linecap="round" stroke-linejoin="round"/></svg>
<div class="a" style="left:1181px;top:122px;width:254px;height:462px;background:#0c122e;border:1px solid #262c4e"></div>
<div class="a" style="left:1182px;top:123px;width:252px;height:19.5px;background:#1f2646"></div>
<div class="t c b" style="left:1370px;top:124.5px;width:64px;font-size:12px;color:#8b91ab;letter-spacing:-0.3px">Price</div>
<div class="a" style="left:1182px;top:141.80px;width:252px;height:1px;background:#2b335a"></div>
<div class="a" style="left:1370px;top:142.80px;width:64px;height:19.02px;background:#eeaaa9"></div>
<div class="t c" style="left:1370px;top:144.61px;width:64px;font-size:12.5px;letter-spacing:-0.55px;color:#15182a">6288,00</div>
<div class="a" style="left:1182px;top:161.82px;width:252px;height:1px;background:#2b335a"></div>
<div class="a" style="left:1370px;top:162.82px;width:64px;height:19.02px;background:#eeaaa9"></div>
<div class="t c" style="left:1370px;top:164.63000000000002px;width:64px;font-size:12.5px;letter-spacing:-0.55px;color:#15182a">6287,50</div>
<div class="a" style="left:1182px;top:181.84px;width:252px;height:1px;background:#2b335a"></div>
<div class="a" style="left:1370px;top:182.84px;width:64px;height:19.02px;background:#97bfaf"></div>
<div class="t c" style="left:1370px;top:184.65px;width:64px;font-size:12.5px;letter-spacing:-0.55px;color:#15182a">6288,75</div>
<div class="a" style="left:1182px;top:201.86px;width:252px;height:1px;background:#2b335a"></div>
<div class="a" style="left:1370px;top:202.86px;width:64px;height:19.02px;background:#97bfaf"></div>
<div class="t c" style="left:1370px;top:204.67000000000002px;width:64px;font-size:12.5px;letter-spacing:-0.55px;color:#15182a">6290,25</div>
<div class="a" style="left:1182px;top:221.88px;width:252px;height:1px;background:#2b335a"></div>
<div class="a" style="left:1370px;top:222.88px;width:64px;height:19.02px;background:#97bfaf"></div>
<div class="t c" style="left:1370px;top:224.69px;width:64px;font-size:12.5px;letter-spacing:-0.55px;color:#15182a">6289,50</div>
<div class="a" style="left:1182px;top:241.90px;width:252px;height:1px;background:#2b335a"></div>
<div class="a" style="left:1370px;top:242.90px;width:64px;height:19.02px;background:#eeaaa9"></div>
<div class="t c" style="left:1370px;top:244.71px;width:64px;font-size:12.5px;letter-spacing:-0.55px;color:#15182a">6288,25</div>
<div class="t " style="left:1190.5px;top:244.71px;font-size:12.5px;letter-spacing:-0.6px;color:#e6eaf8">09:02:08</div>
<div class="t c" style="left:1255px;top:244.71px;width:40px;font-size:12.5px;letter-spacing:-0.4px;color:#e6eaf8">21</div>
<div class="t c" style="left:1319px;top:244.71px;width:40px;font-size:12.5px;letter-spacing:-0.4px;color:#e6eaf8">5,25</div>
<div class="a" style="left:1182px;top:261.92px;width:252px;height:1px;background:#2b335a"></div>
<div class="a" style="left:1370px;top:262.92px;width:64px;height:19.02px;background:#97bfaf"></div>
<div class="t c" style="left:1370px;top:264.73px;width:64px;font-size:12.5px;letter-spacing:-0.55px;color:#15182a">6287,75</div>
<div class="t " style="left:1190.5px;top:264.73px;font-size:12.5px;letter-spacing:-0.6px;color:#e6eaf8">09:02:06</div>
<div class="t c" style="left:1255px;top:264.73px;width:40px;font-size:12.5px;letter-spacing:-0.4px;color:#e6eaf8">21</div>
<div class="t c" style="left:1319px;top:264.73px;width:40px;font-size:12.5px;letter-spacing:-0.4px;color:#e6eaf8">1,17</div>
<div class="a" style="left:1182px;top:281.94px;width:252px;height:1px;background:#2b335a"></div>
<div class="a" style="left:1370px;top:282.94px;width:64px;height:19.02px;background:#eeaaa9"></div>
<div class="t c" style="left:1370px;top:284.75px;width:64px;font-size:12.5px;letter-spacing:-0.55px;color:#15182a">6287,25</div>
<div class="t " style="left:1190.5px;top:284.75px;font-size:12.5px;letter-spacing:-0.6px;color:#e6eaf8">09:01:58</div>
<div class="t c" style="left:1255px;top:284.75px;width:40px;font-size:12.5px;letter-spacing:-0.4px;color:#e6eaf8">20</div>
<div class="t c" style="left:1319px;top:284.75px;width:40px;font-size:12.5px;letter-spacing:-0.4px;color:#e6eaf8">1,54</div>
<div class="a" style="left:1182px;top:301.96px;width:252px;height:1px;background:#2b335a"></div>
<div class="a" style="left:1370px;top:302.96px;width:64px;height:19.02px;background:#97bfaf"></div>
<div class="t c" style="left:1370px;top:304.77000000000004px;width:64px;font-size:12.5px;letter-spacing:-0.55px;color:#15182a">6289,75</div>
<div class="t " style="left:1190.5px;top:304.77000000000004px;font-size:12.5px;letter-spacing:-0.6px;color:#e6eaf8">08:59:55</div>
<div class="t c" style="left:1255px;top:304.77000000000004px;width:40px;font-size:12.5px;letter-spacing:-0.4px;color:#e6eaf8">20</div>
<div class="t c" style="left:1319px;top:304.77000000000004px;width:40px;font-size:12.5px;letter-spacing:-0.4px;color:#e6eaf8">1,43</div>
<div class="a" style="left:1182px;top:321.98px;width:252px;height:1px;background:#2b335a"></div>
<div class="a" style="left:1370px;top:322.98px;width:64px;height:19.02px;background:#eeaaa9"></div>
<div class="t c" style="left:1370px;top:324.79px;width:64px;font-size:12.5px;letter-spacing:-0.55px;color:#15182a">6289,25</div>
<div class="t " style="left:1190.5px;top:324.79px;font-size:12.5px;letter-spacing:-0.6px;color:#e6eaf8">08:59:07</div>
<div class="t c" style="left:1255px;top:324.79px;width:40px;font-size:12.5px;letter-spacing:-0.4px;color:#e6eaf8">35</div>
<div class="t c" style="left:1319px;top:324.79px;width:40px;font-size:12.5px;letter-spacing:-0.4px;color:#e6eaf8">1,67</div>
<div class="a" style="left:1182px;top:342.00px;width:252px;height:1px;background:#2b335a"></div>
<div class="a" style="left:1370px;top:343.00px;width:64px;height:19.02px;background:#eeaaa9"></div>
<div class="t c" style="left:1370px;top:344.81px;width:64px;font-size:12.5px;letter-spacing:-0.55px;color:#15182a">6289,00</div>
<div class="t " style="left:1190.5px;top:344.81px;font-size:12.5px;letter-spacing:-0.6px;color:#e6eaf8">08:55:09</div>
<div class="t c" style="left:1255px;top:344.81px;width:40px;font-size:12.5px;letter-spacing:-0.4px;color:#e6eaf8">20</div>
<div class="t c" style="left:1319px;top:344.81px;width:40px;font-size:12.5px;letter-spacing:-0.4px;color:#e6eaf8">1,54</div>
<div class="a" style="left:1182px;top:362.02px;width:252px;height:1px;background:#2b335a"></div>
<div class="a" style="left:1370px;top:363.02px;width:64px;height:19.02px;background:#eeaaa9"></div>
<div class="t c" style="left:1370px;top:364.83px;width:64px;font-size:12.5px;letter-spacing:-0.55px;color:#15182a">6289,75</div>
<div class="t " style="left:1190.5px;top:364.83px;font-size:12.5px;letter-spacing:-0.6px;color:#e6eaf8">08:54:57</div>
<div class="t c" style="left:1255px;top:364.83px;width:40px;font-size:12.5px;letter-spacing:-0.4px;color:#e6eaf8">23</div>
<div class="t c" style="left:1319px;top:364.83px;width:40px;font-size:12.5px;letter-spacing:-0.4px;color:#e6eaf8">1,92</div>
<div class="a" style="left:1182px;top:382.04px;width:252px;height:1px;background:#2b335a"></div>
<div class="a" style="left:1370px;top:383.04px;width:64px;height:19.02px;background:#eeaaa9"></div>
<div class="t c" style="left:1370px;top:384.85px;width:64px;font-size:12.5px;letter-spacing:-0.55px;color:#15182a">6290,25</div>
<div class="t " style="left:1190.5px;top:384.85px;font-size:12.5px;letter-spacing:-0.6px;color:#e6eaf8">08:54:20</div>
<div class="t c" style="left:1255px;top:384.85px;width:40px;font-size:12.5px;letter-spacing:-0.4px;color:#e6eaf8">27</div>
<div class="t c" style="left:1319px;top:384.85px;width:40px;font-size:12.5px;letter-spacing:-0.4px;color:#e6eaf8">3,38</div>
<div class="a" style="left:1182px;top:402.06px;width:252px;height:1px;background:#2b335a"></div>
<div class="a" style="left:1370px;top:403.06px;width:64px;height:19.02px;background:#eeaaa9"></div>
<div class="t c" style="left:1370px;top:404.87px;width:64px;font-size:12.5px;letter-spacing:-0.55px;color:#15182a">6290,25</div>
<div class="t " style="left:1190.5px;top:404.87px;font-size:12.5px;letter-spacing:-0.6px;color:#e6eaf8">08:53:35</div>
<div class="t c" style="left:1255px;top:404.87px;width:40px;font-size:12.5px;letter-spacing:-0.4px;color:#e6eaf8">29</div>
<div class="t c" style="left:1319px;top:404.87px;width:40px;font-size:12.5px;letter-spacing:-0.4px;color:#e6eaf8">2,9</div>
<div class="a" style="left:1182px;top:422.08px;width:252px;height:1px;background:#2b335a"></div>
<div class="a" style="left:1370px;top:423.08px;width:64px;height:19.02px;background:#eeaaa9"></div>
<div class="t c" style="left:1370px;top:424.89px;width:64px;font-size:12.5px;letter-spacing:-0.55px;color:#15182a">6289,75</div>
<div class="t " style="left:1190.5px;top:424.89px;font-size:12.5px;letter-spacing:-0.6px;color:#e6eaf8">08:53:20</div>
<div class="t c" style="left:1255px;top:424.89px;width:40px;font-size:12.5px;letter-spacing:-0.4px;color:#e6eaf8">45</div>
<div class="t c" style="left:1319px;top:424.89px;width:40px;font-size:12.5px;letter-spacing:-0.4px;color:#e6eaf8">2,37</div>
<div class="a" style="left:1182px;top:442.10px;width:252px;height:1px;background:#2b335a"></div>
<div class="a" style="left:1370px;top:443.10px;width:64px;height:19.02px;background:#eeaaa9"></div>
<div class="t c" style="left:1370px;top:444.91px;width:64px;font-size:12.5px;letter-spacing:-0.55px;color:#15182a">6288,50</div>
<div class="t " style="left:1190.5px;top:444.91px;font-size:12.5px;letter-spacing:-0.6px;color:#e6eaf8">08:52:52</div>
<div class="t c" style="left:1255px;top:444.91px;width:40px;font-size:12.5px;letter-spacing:-0.4px;color:#e6eaf8">26</div>
<div class="t c" style="left:1319px;top:444.91px;width:40px;font-size:12.5px;letter-spacing:-0.4px;color:#e6eaf8">2,17</div>
<div class="a" style="left:1182px;top:462.12px;width:252px;height:1px;background:#2b335a"></div>
<div class="a" style="left:1370px;top:463.12px;width:64px;height:19.02px;background:#eeaaa9"></div>
<div class="t c" style="left:1370px;top:464.93px;width:64px;font-size:12.5px;letter-spacing:-0.55px;color:#15182a">6288,00</div>
<div class="t " style="left:1190.5px;top:464.93px;font-size:12.5px;letter-spacing:-0.6px;color:#e6eaf8">08:52:05</div>
<div class="t c" style="left:1255px;top:464.93px;width:40px;font-size:12.5px;letter-spacing:-0.4px;color:#e6eaf8">20</div>
<div class="t c" style="left:1319px;top:464.93px;width:40px;font-size:12.5px;letter-spacing:-0.4px;color:#e6eaf8">1,67</div>
<div class="a" style="left:1182px;top:482.14px;width:252px;height:1px;background:#2b335a"></div>
<div class="a" style="left:1370px;top:483.14px;width:64px;height:19.02px;background:#97bfaf"></div>
<div class="t c" style="left:1370px;top:484.95px;width:64px;font-size:12.5px;letter-spacing:-0.55px;color:#15182a">6287,25</div>
<div class="t " style="left:1190.5px;top:484.95px;font-size:12.5px;letter-spacing:-0.6px;color:#e6eaf8">08:49:05</div>
<div class="t c" style="left:1255px;top:484.95px;width:40px;font-size:12.5px;letter-spacing:-0.4px;color:#e6eaf8">20</div>
<div class="t c" style="left:1319px;top:484.95px;width:40px;font-size:12.5px;letter-spacing:-0.4px;color:#e6eaf8">1,43</div>
<div class="a" style="left:1182px;top:502.16px;width:252px;height:1px;background:#2b335a"></div>
<div class="a" style="left:1370px;top:503.16px;width:64px;height:19.02px;background:#eeaaa9"></div>
<div class="t c" style="left:1370px;top:504.97px;width:64px;font-size:12.5px;letter-spacing:-0.55px;color:#15182a">6285,50</div>
<div class="t " style="left:1190.5px;top:504.97px;font-size:12.5px;letter-spacing:-0.6px;color:#e6eaf8">08:48:40</div>
<div class="t c" style="left:1255px;top:504.97px;width:40px;font-size:12.5px;letter-spacing:-0.4px;color:#e6eaf8">49</div>
<div class="t c" style="left:1319px;top:504.97px;width:40px;font-size:12.5px;letter-spacing:-0.4px;color:#e6eaf8">1,44</div>
<div class="a" style="left:1182px;top:522.18px;width:252px;height:1px;background:#2b335a"></div>
<div class="a" style="left:1370px;top:523.18px;width:64px;height:19.02px;background:#97bfaf"></div>
<div class="t c" style="left:1370px;top:524.99px;width:64px;font-size:12.5px;letter-spacing:-0.55px;color:#15182a">6285,50</div>
<div class="t " style="left:1190.5px;top:524.99px;font-size:12.5px;letter-spacing:-0.6px;color:#e6eaf8">08:47:14</div>
<div class="t c" style="left:1255px;top:524.99px;width:40px;font-size:12.5px;letter-spacing:-0.4px;color:#e6eaf8">23</div>
<div class="t c" style="left:1319px;top:524.99px;width:40px;font-size:12.5px;letter-spacing:-0.4px;color:#e6eaf8">3,29</div>
<div class="a" style="left:1182px;top:542.20px;width:252px;height:1px;background:#2b335a"></div>
<div class="a" style="left:1370px;top:543.20px;width:64px;height:19.02px;background:#97bfaf"></div>
<div class="t c" style="left:1370px;top:545.01px;width:64px;font-size:12.5px;letter-spacing:-0.55px;color:#15182a">6285,75</div>
<div class="t " style="left:1190.5px;top:545.01px;font-size:12.5px;letter-spacing:-0.6px;color:#e6eaf8">08:47:07</div>
<div class="t c" style="left:1255px;top:545.01px;width:40px;font-size:12.5px;letter-spacing:-0.4px;color:#e6eaf8">38</div>
<div class="t c" style="left:1319px;top:545.01px;width:40px;font-size:12.5px;letter-spacing:-0.4px;color:#e6eaf8">2,71</div>
<div class="a" style="left:1182px;top:562.22px;width:252px;height:1px;background:#2b335a"></div>
<div class="a" style="left:1370px;top:563.22px;width:64px;height:19.02px;background:#eeaaa9"></div>
<div class="t c" style="left:1370px;top:565.03px;width:64px;font-size:12.5px;letter-spacing:-0.55px;color:#15182a">6285,50</div>
<div class="t " style="left:1190.5px;top:565.03px;font-size:12.5px;letter-spacing:-0.6px;color:#e6eaf8">08:47:07</div>
<div class="t c" style="left:1255px;top:565.03px;width:40px;font-size:12.5px;letter-spacing:-0.4px;color:#e6eaf8">23</div>
<div class="t c" style="left:1319px;top:565.03px;width:40px;font-size:12.5px;letter-spacing:-0.4px;color:#e6eaf8">1,21</div>
<div class="a" style="left:1176px;top:585px;width:264px;height:315px;background:#1a2040;border-top:2px solid #2b3256"></div>
<div class="a" style="left:1177px;top:587px;width:263px;height:35px;background:#0c122e"></div>
<div class="a" style="left:1180px;top:626px;width:257px;height:270px;background:#0c122e;border:1px solid #2b3256"></div>
<svg width="1440" height="900"><line x1="1193.2" y1="597.75" x2="1193.2" y2="611.25" stroke="#3a70ea" stroke-width="0.9"/><rect x="1191.9" y="599.45" width="2.6" height="10.1" rx="1" fill="#3a70ea"/><line x1="1198" y1="597.75" x2="1198" y2="611.25" stroke="#2a98ff" stroke-width="0.9"/><rect x="1196.7" y="599.45" width="2.6" height="10.1" rx="1" fill="#2a98ff"/><line x1="1202.8" y1="597.75" x2="1202.8" y2="611.25" stroke="#2ad0ff" stroke-width="0.9"/><rect x="1201.5" y="599.45" width="2.6" height="10.1" rx="1" fill="#2ad0ff"/><path d="M1305.07,598.69 A4.09,4.09 0 0 1 1308.93,598.69 Q1309.30,601.02 1311.50,600.17 A4.09,4.09 0 0 1 1313.43,603.52 Q1311.60,605.00 1313.43,606.48 A4.09,4.09 0 0 1 1311.50,609.83 Q1309.30,608.98 1308.93,611.31 A4.09,4.09 0 0 1 1305.07,611.31 Q1304.70,608.98 1302.50,609.83 A4.09,4.09 0 0 1 1300.57,606.48 Q1302.40,605.00 1300.57,603.52 A4.09,4.09 0 0 1 1302.50,600.17 Q1304.70,601.02 1305.07,598.69 Z" fill="none" stroke="#c3cae8" stroke-width="1.2" stroke-linejoin="round"/><circle cx="1307" cy="605" r="2.6" fill="none" stroke="#c3cae8" stroke-width="1.2"/><path d="M1331,599.5 H1343 L1338.6,605.5 V611 L1335.4,609.4 V605.5 Z" fill="#4a5a98" stroke="#b9c6f7" stroke-width="1.2" stroke-linejoin="round"/><path d="M1360.8,605 L1369.2,605" stroke="#b9c6f7" stroke-width="1.6" fill="none"/><rect x="1389" y="601" width="8" height="8" fill="none" stroke="#b9c6f7" stroke-width="1.4"/><path d="M1416.8,600.8 L1425.2,609.2 M1425.2,600.8 L1416.8,609.2" stroke="#b9c6f7" stroke-width="1.5" stroke-linecap="round" fill="none"/><line x1="1181" y1="629.2" x2="1392.6" y2="629.2" stroke="#d4d7e4" stroke-width="0.9" stroke-dasharray="2.6 1.4"/><line x1="1181" y1="690.4" x2="1392.6" y2="690.4" stroke="#d4d7e4" stroke-width="0.9" stroke-dasharray="2.6 1.4"/><line x1="1181" y1="751.8" x2="1392.6" y2="751.8" stroke="#d4d7e4" stroke-width="0.9" stroke-dasharray="2.6 1.4"/><line x1="1181" y1="813.2" x2="1392.6" y2="813.2" stroke="#d4d7e4" stroke-width="0.9" stroke-dasharray="2.6 1.4"/><line x1="1392.6" y1="629" x2="1392.6" y2="875.6" stroke="#9fa4b8" stroke-width="1.2"/><line x1="1224.6" y1="661.9" x2="1224.6" y2="679" stroke="#008000" stroke-width="1.1"/><rect x="1207" y="679" width="35.2" height="196.6" fill="#008000"/><line x1="1266.6" y1="628.6" x2="1266.6" y2="641" stroke="#0000ff" stroke-width="1.1"/><rect x="1249.2" y="641" width="34.8" height="234.6" fill="#0000ff"/><line x1="1308.5" y1="635" x2="1308.5" y2="677.7" stroke="#556b2f" stroke-width="1.1"/><rect x="1291" y="677.7" width="35.0" height="197.9" fill="#556b2f"/><line x1="1350.6" y1="680.9" x2="1350.6" y2="705.9" stroke="#daa520" stroke-width="1.1"/><rect x="1333" y="705.9" width="35.2" height="169.7" fill="#daa520"/></svg>
<div class="t c" style="left:1204.6px;top:877.7px;width:40px;font-size:11.5px;color:#070913">ES</div>
<div class="t c" style="left:1246.6px;top:877.7px;width:40px;font-size:11.5px;color:#070913">NQ</div>
<div class="t c" style="left:1288.5px;top:877.7px;width:40px;font-size:11.5px;color:#070913">RTY</div>
<div class="t c" style="left:1330.6px;top:877.7px;width:40px;font-size:11.5px;color:#070913">YM</div>
<div class="t " style="left:1402px;top:682.4px;font-size:11.5px;color:#070913;letter-spacing:-0.3px">0,74</div>
<div class="t " style="left:1402px;top:743.8px;font-size:11.5px;color:#070913;letter-spacing:-0.3px">0,50</div>
<div class="t " style="left:1402px;top:805.2px;font-size:11.5px;color:#070913;letter-spacing:-0.3px">0,25</div>
<div class="t " style="left:1402px;top:867.6px;font-size:11.5px;color:#070913;letter-spacing:-0.3px">0</div>
<div class="a" style="left:1107px;top:42px;width:263px;height:196px;background:#1c2138;border:1px solid #2c3355;border-radius:5px;overflow:hidden"><div class="a" style="left:0;top:151px;width:263px;height:45px;background:#0c122e;border-top:1px solid #2a3152"></div></div>
<svg width="1440" height="300"><path d="M1130.3,63.3 L1139.7,72.7 M1139.7,63.3 L1130.3,72.7" stroke="#b3c6ff" stroke-width="1.2" stroke-linecap="round" fill="none"/><path d="M1130.3,95.3 L1139.7,104.7 M1139.7,95.3 L1130.3,104.7" stroke="#b3c6ff" stroke-width="1.2" stroke-linecap="round" fill="none"/><path d="M1130.3,127.3 L1139.7,136.7 M1139.7,127.3 L1130.3,136.7" stroke="#b3c6ff" stroke-width="1.2" stroke-linecap="round" fill="none"/><path d="M1335.2,68 Q1342,59.4 1348.8,68 Q1342,76.6 1335.2,68 Z" fill="none" stroke="#aab8ee" stroke-width="1.6"/><circle cx="1342" cy="68" r="3" fill="#aab8ee"/><path d="M1335.2,132 Q1342,123.4 1348.8,132 Q1342,140.6 1335.2,132 Z" fill="none" stroke="#aab8ee" stroke-width="1.6"/><circle cx="1342" cy="132" r="3" fill="#aab8ee"/><path d="M1336,94.2 H1345.6 L1348,96.6 V105.8 H1336 Z" fill="#3a4678" stroke="#aab8ee" stroke-width="1.2" stroke-linejoin="round"/><rect x="1338.4" y="94.2" width="6" height="3.6" fill="#aab8ee"/><rect x="1338.4" y="101" width="7.2" height="4.8" fill="#1c2138" stroke="#aab8ee" stroke-width="1"/></svg>
<div class="t " style="left:1153px;top:60.5px;font-size:12.5px;color:#7b8198;letter-spacing:-0.7px">YM_25</div>
<div class="t b" style="left:1153px;top:92.5px;font-size:12.5px;color:#eef0fa;transform:scaleX(0.85);transform-origin:0 50%">ES_25</div>
<div class="t " style="left:1153px;top:124.5px;font-size:12.5px;color:#7b8198;letter-spacing:-0.7px">NQ_25</div>
<div class="btn" style="left:1129px;top:203px;width:42px;height:26px;line-height:24px;border:1px solid #5b9bf0;color:#8dbbff;background:#0c122e">New</div>
<div class="btn" style="left:1179px;top:203px;width:57px;height:26px;line-height:24px;border:1px solid #5b9bf0;color:#8dbbff;background:#0c122e;font-size:12px;letter-spacing:-0.3px">Save as</div>
<div class="btn" style="left:1272px;top:203px;width:80px;height:26px;line-height:26px;background:#63a1ff;color:#1d2c50">Open</div>
<div class="a" style="left:0;top:897.5px;width:1440px;height:2.5px;background:#0a0a0a"></div>
<div class="a" style="left:490px;top:898px;width:44px;height:2px;background:#3c3c3c"></div>
</body></html>
